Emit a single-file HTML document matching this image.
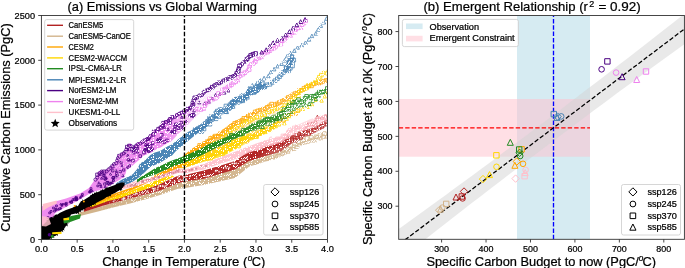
<!DOCTYPE html>
<html><head><meta charset="utf-8"><style>html,body{margin:0;padding:0;background:#fff;}svg{display:block;will-change:transform;}</style></head><body>
<svg width="685" height="268" viewBox="0 0 685 268" font-family='"Liberation Sans", sans-serif'>
<rect width="685" height="268" fill="#fff"/>
<defs><clipPath id="ca"><rect x="41.4" y="15.5" width="286.1" height="224.0"/></clipPath>
<clipPath id="cb"><rect x="398.7" y="15.5" width="285.7" height="223.8"/></clipPath></defs>
<defs><linearGradient id="g_violet" gradientUnits="userSpaceOnUse" x1="41.4" y1="0" x2="327.5" y2="0"><stop offset="-0.001" stop-color="#ee82ee" stop-opacity="0.92"/><stop offset="0.432" stop-color="#ee82ee" stop-opacity="0.88"/><stop offset="0.502" stop-color="#ee82ee" stop-opacity="0.55"/><stop offset="0.554" stop-color="#ee82ee" stop-opacity="0.2"/><stop offset="0.607" stop-color="#ee82ee" stop-opacity="0.08"/><stop offset="0.754" stop-color="#ee82ee" stop-opacity="0.05"/></linearGradient><linearGradient id="g_black" gradientUnits="userSpaceOnUse" x1="41.4" y1="0" x2="327.5" y2="0"><stop offset="-0.001" stop-color="#000" stop-opacity="1"/><stop offset="0.289" stop-color="#000" stop-opacity="1"/></linearGradient><linearGradient id="g_steel" gradientUnits="userSpaceOnUse" x1="41.4" y1="0" x2="327.5" y2="0"><stop offset="0.261" stop-color="#4682b4" stop-opacity="1"/><stop offset="0.540" stop-color="#4682b4" stop-opacity="0.95"/><stop offset="0.589" stop-color="#4682b4" stop-opacity="0.45"/><stop offset="0.642" stop-color="#4682b4" stop-opacity="0.3"/><stop offset="0.782" stop-color="#4682b4" stop-opacity="0.2"/></linearGradient><linearGradient id="g_orange" gradientUnits="userSpaceOnUse" x1="41.4" y1="0" x2="327.5" y2="0"><stop offset="0.156" stop-color="#ffa500" stop-opacity="1"/><stop offset="0.537" stop-color="#ffa500" stop-opacity="0.95"/><stop offset="0.607" stop-color="#ffa500" stop-opacity="0.6"/><stop offset="0.694" stop-color="#ffa500" stop-opacity="0.35"/><stop offset="0.782" stop-color="#ffa500" stop-opacity="0.2"/><stop offset="0.851" stop-color="#ffa500" stop-opacity="0.12"/></linearGradient><linearGradient id="g_gold" gradientUnits="userSpaceOnUse" x1="41.4" y1="0" x2="327.5" y2="0"><stop offset="0.156" stop-color="#ffd700" stop-opacity="1"/><stop offset="0.554" stop-color="#ffd700" stop-opacity="1"/></linearGradient><linearGradient id="g_gold2" gradientUnits="userSpaceOnUse" x1="41.4" y1="0" x2="327.5" y2="0"><stop offset="0.477" stop-color="#ffd700" stop-opacity="0.0"/><stop offset="0.519" stop-color="#ffd700" stop-opacity="0.75"/><stop offset="0.642" stop-color="#ffd700" stop-opacity="0.75"/><stop offset="0.729" stop-color="#ffd700" stop-opacity="0.45"/><stop offset="0.834" stop-color="#ffd700" stop-opacity="0.2"/></linearGradient><linearGradient id="g_green" gradientUnits="userSpaceOnUse" x1="41.4" y1="0" x2="327.5" y2="0"><stop offset="0.334" stop-color="#228b22" stop-opacity="1"/><stop offset="0.642" stop-color="#228b22" stop-opacity="0.95"/><stop offset="0.712" stop-color="#228b22" stop-opacity="0.6"/><stop offset="0.799" stop-color="#228b22" stop-opacity="0.4"/><stop offset="0.855" stop-color="#228b22" stop-opacity="0.3"/></linearGradient><linearGradient id="g_pink" gradientUnits="userSpaceOnUse" x1="41.4" y1="0" x2="327.5" y2="0"><stop offset="0.261" stop-color="#ffc0cb" stop-opacity="0.95"/><stop offset="0.729" stop-color="#ffc0cb" stop-opacity="0.9"/><stop offset="0.869" stop-color="#ffc0cb" stop-opacity="0.6"/><stop offset="1.002" stop-color="#ffc0cb" stop-opacity="0.45"/></linearGradient><linearGradient id="g_red" gradientUnits="userSpaceOnUse" x1="41.4" y1="0" x2="327.5" y2="0"><stop offset="0.149" stop-color="#b22222" stop-opacity="1"/><stop offset="0.747" stop-color="#b22222" stop-opacity="0.95"/><stop offset="0.869" stop-color="#b22222" stop-opacity="0.55"/><stop offset="1.002" stop-color="#b22222" stop-opacity="0.35"/></linearGradient><linearGradient id="g_tan" gradientUnits="userSpaceOnUse" x1="41.4" y1="0" x2="327.5" y2="0"><stop offset="0.128" stop-color="#d2b48c" stop-opacity="1"/><stop offset="0.712" stop-color="#d2b48c" stop-opacity="0.95"/><stop offset="0.834" stop-color="#d2b48c" stop-opacity="0.5"/><stop offset="1.002" stop-color="#d2b48c" stop-opacity="0.25"/></linearGradient></defs>
<g clip-path="url(#ca)">
<path d="M78.0 212.8L99.0 207.3L115.0 202.5L130.0 198.4L145.0 194.5L160.0 190.5L178.0 183.2L185.0 181.6L203.7 177.0L235.0 169.5L249.0 159.3L267.3 153.7L280.0 150.0L297.0 143.5L313.0 137.0L328.0 131.5L328.0 135.0L313.0 140.0L297.0 146.5L280.0 157.4L267.3 161.1L249.0 166.7L235.0 177.9L203.7 185.0L185.0 188.0L178.0 188.8L160.0 195.1L145.0 199.5L130.0 203.6L115.0 207.0L99.0 211.2L78.0 216.6Z" fill="url(#g_tan)"/>
<path d="M253.1 162.8a1.8 1.8 0 1 0 3.6 0a1.8 1.8 0 1 0 -3.6 0M257.9 159.9L259.7 163.5L256.1 163.5ZM260.5 157.7L262.3 161.3L258.7 161.3ZM263.4 156.2L265.2 159.8L261.6 159.8ZM267.1 157.0L268.9 160.6L265.3 160.6ZM268.3 157.9a1.8 1.8 0 1 0 3.6 0a1.8 1.8 0 1 0 -3.6 0M273.3 155.4L275.1 159.0L271.5 159.0ZM276.3 154.3L278.1 157.9L274.5 157.9ZM278.6 151.0L280.4 154.6L276.8 154.6ZM280.6 154.1a1.8 1.8 0 1 0 3.6 0a1.8 1.8 0 1 0 -3.6 0M285.0 150.3L286.8 153.9L283.2 153.9ZM288.2 149.6L290.0 153.2L286.4 153.2ZM290.7 147.3L292.5 150.9L288.9 150.9ZM294.0 146.8L295.8 150.4L292.2 150.4ZM296.5 144.8L298.3 148.4L294.7 148.4ZM297.6 145.1a1.8 1.8 0 1 0 3.6 0a1.8 1.8 0 1 0 -3.6 0M302.0 140.9L303.8 144.5L300.2 144.5ZM304.9 140.3L306.7 143.9L303.1 143.9ZM306.5 141.7a1.8 1.8 0 1 0 3.6 0a1.8 1.8 0 1 0 -3.6 0M311.1 138.3L312.9 141.9L309.3 141.9ZM314.6 138.5L316.4 142.1L312.8 142.1ZM315.1 137.3a1.8 1.8 0 1 0 3.6 0a1.8 1.8 0 1 0 -3.6 0M320.6 136.4L322.4 140.0L318.8 140.0ZM321.8 136.9a1.8 1.8 0 1 0 3.6 0a1.8 1.8 0 1 0 -3.6 0M326.7 134.5L328.5 138.1L324.9 138.1ZM281.2 148.1h3.6v3.6h-3.6ZM285.3 146.4h3.6v3.6h-3.6ZM289.0 144.0h3.6v3.6h-3.6ZM292.8 141.5h3.6v3.6h-3.6ZM296.9 140.3h3.6v3.6h-3.6ZM301.0 138.5h3.6v3.6h-3.6ZM305.2 136.7h3.6v3.6h-3.6ZM309.6 135.6h3.6v3.6h-3.6ZM314.1 135.0h3.6v3.6h-3.6ZM318.2 133.1h3.6v3.6h-3.6ZM322.5 131.7h3.6v3.6h-3.6Z" fill="none" stroke="#d2b48c" stroke-width="0.8"/>
<path d="M84.0 207.8L104.0 201.2L115.0 198.0L130.0 194.6L145.0 189.5L160.0 184.0L178.0 175.8L185.0 175.1L203.7 170.4L222.3 164.9L235.0 161.1L249.0 151.0L267.3 145.3L280.0 141.5L297.0 133.0L315.0 126.5L328.0 118.0L328.0 126.0L315.0 133.0L297.0 140.1L280.0 152.0L267.3 155.5L249.0 161.1L235.0 169.5L222.3 173.2L203.7 178.8L185.0 181.6L178.0 183.2L160.0 190.5L145.0 194.5L130.0 198.4L115.0 202.5L104.0 205.4L84.0 211.8Z" fill="url(#g_red)"/>
<path d="M247.9 153.4h3.6v3.6h-3.6ZM251.3 154.0h3.6v3.6h-3.6ZM253.7 151.7h3.6v3.6h-3.6ZM256.8 151.6h3.6v3.6h-3.6ZM259.6 150.5h3.6v3.6h-3.6ZM262.4 149.3h3.6v3.6h-3.6ZM264.9 147.3h3.6v3.6h-3.6ZM267.9 146.8h3.6v3.6h-3.6ZM270.9 146.4h3.6v3.6h-3.6ZM273.7 145.4h3.6v3.6h-3.6ZM276.5 144.2h3.6v3.6h-3.6ZM279.3 143.6h3.6v3.6h-3.6ZM282.5 143.2h3.6v3.6h-3.6ZM284.8 141.2h3.6v3.6h-3.6ZM287.4 139.5h3.6v3.6h-3.6ZM289.8 137.8h3.6v3.6h-3.6ZM293.5 138.4h3.6v3.6h-3.6ZM295.8 136.3h3.6v3.6h-3.6ZM298.8 135.7h3.6v3.6h-3.6ZM300.7 132.5h3.6v3.6h-3.6ZM303.2 131.3h3.6v3.6h-3.6ZM306.9 131.6h3.6v3.6h-3.6ZM309.2 129.5h3.6v3.6h-3.6ZM311.9 128.3h3.6v3.6h-3.6ZM313.8 125.4h3.6v3.6h-3.6ZM317.3 125.8h3.6v3.6h-3.6ZM320.0 124.5h3.6v3.6h-3.6ZM322.3 122.2h3.6v3.6h-3.6ZM324.7 120.3h3.6v3.6h-3.6ZM262.3 147.3L264.1 150.9L260.5 150.9ZM266.2 146.3L268.0 149.9L264.4 149.9ZM269.6 143.7L271.4 147.3L267.8 147.3ZM273.5 142.7L275.3 146.3L271.7 146.3ZM277.4 141.8L279.2 145.4L275.6 145.4ZM281.7 141.4L283.5 145.0L279.9 145.0ZM284.2 137.6L286.0 141.2L282.4 141.2ZM287.6 135.5L289.4 139.1L285.8 139.1ZM292.0 135.2L293.8 138.8L290.2 138.8ZM295.2 132.7L297.0 136.3L293.4 136.3ZM299.0 131.3L300.8 134.9L297.2 134.9ZM302.6 129.2L304.4 132.8L300.8 132.8ZM305.8 126.9L307.6 130.5L304.0 130.5ZM307.7 122.8L309.5 126.4L305.9 126.4ZM312.0 121.9L313.8 125.5L310.2 125.5ZM315.4 119.7L317.2 123.3L313.6 123.3ZM317.4 115.2L319.2 118.8L315.6 118.8ZM321.8 115.8L323.6 119.4L320.0 119.4ZM325.5 114.1L327.3 117.7L323.7 117.7Z" fill="none" stroke="#b22222" stroke-width="0.8"/>
<path d="M154.3 189.6h1.0v1.0h-1.0ZM231.7 162.9h1.0v1.0h-1.0ZM189.4 176.0h1.0v1.0h-1.0ZM199.2 174.4h1.0v1.0h-1.0ZM113.0 200.9h1.0v1.0h-1.0ZM218.6 171.3h1.0v1.0h-1.0ZM172.0 182.0h1.0v1.0h-1.0ZM243.7 160.0h1.0v1.0h-1.0ZM224.8 166.2h1.0v1.0h-1.0ZM215.2 170.7h1.0v1.0h-1.0ZM134.6 194.1h1.0v1.0h-1.0ZM185.1 179.6h1.0v1.0h-1.0ZM164.6 185.8h1.0v1.0h-1.0ZM121.7 198.7h1.0v1.0h-1.0ZM127.7 196.4h1.0v1.0h-1.0ZM162.3 185.9h1.0v1.0h-1.0ZM174.4 181.1h1.0v1.0h-1.0ZM123.4 198.2h1.0v1.0h-1.0ZM139.4 193.9h1.0v1.0h-1.0ZM246.3 157.3h1.0v1.0h-1.0ZM146.2 191.6h1.0v1.0h-1.0ZM158.3 185.5h1.0v1.0h-1.0ZM157.4 187.1h1.0v1.0h-1.0ZM177.7 176.6h1.0v1.0h-1.0ZM169.6 180.3h1.0v1.0h-1.0ZM205.6 175.9h1.0v1.0h-1.0ZM130.3 195.8h1.0v1.0h-1.0ZM241.9 159.9h1.0v1.0h-1.0ZM215.6 170.0h1.0v1.0h-1.0ZM225.9 167.7h1.0v1.0h-1.0ZM182.7 179.6h1.0v1.0h-1.0ZM153.1 188.4h1.0v1.0h-1.0ZM152.1 187.9h1.0v1.0h-1.0ZM189.7 175.4h1.0v1.0h-1.0ZM179.9 179.1h1.0v1.0h-1.0ZM184.9 175.9h1.0v1.0h-1.0ZM185.7 179.7h1.0v1.0h-1.0ZM178.2 179.8h1.0v1.0h-1.0ZM239.8 161.0h1.0v1.0h-1.0ZM147.2 190.6h1.0v1.0h-1.0ZM157.1 189.1h1.0v1.0h-1.0ZM183.0 176.4h1.0v1.0h-1.0ZM196.0 177.8h1.0v1.0h-1.0ZM207.8 175.6h1.0v1.0h-1.0ZM136.7 193.3h1.0v1.0h-1.0ZM154.6 187.8h1.0v1.0h-1.0ZM124.2 197.7h1.0v1.0h-1.0ZM228.8 167.2h1.0v1.0h-1.0ZM207.7 175.0h1.0v1.0h-1.0ZM162.1 185.3h1.0v1.0h-1.0ZM184.8 179.3h1.0v1.0h-1.0ZM183.6 179.5h1.0v1.0h-1.0ZM142.1 192.8h1.0v1.0h-1.0ZM235.9 162.8h1.0v1.0h-1.0ZM234.2 163.1h1.0v1.0h-1.0ZM233.8 162.8h1.0v1.0h-1.0ZM128.1 195.8h1.0v1.0h-1.0ZM123.1 198.2h1.0v1.0h-1.0ZM185.6 178.5h1.0v1.0h-1.0ZM165.9 184.8h1.0v1.0h-1.0Z" fill="none" stroke="#ffffff" stroke-width="0.6"/>
<path d="M86.0 204.6L93.0 203.6L108.0 197.5L120.0 194.0L130.0 190.9L145.0 185.0L160.0 178.7L168.0 176.0L174.0 175.5L174.0 176.5L168.0 179.5L160.0 183.9L145.0 189.5L130.0 194.6L120.0 198.2L108.0 201.0L93.0 206.6L86.0 207.2Z" fill="url(#g_gold)"/>
<path d="M86.0 204.6L100.0 199.0L110.0 195.0L120.0 191.5L130.0 187.9L145.0 180.5L160.0 172.7L170.0 167.5L178.0 163.7L184.0 155.0L193.0 148.0L208.0 139.5L220.0 131.5L230.0 124.0L241.0 118.0L252.0 113.0L263.0 108.5L275.0 104.0L285.0 100.5L285.0 120.0L275.0 125.0L263.0 131.0L252.0 139.0L241.0 145.0L230.0 151.0L220.0 155.0L208.0 159.0L193.0 165.0L184.0 167.6L178.0 168.3L170.0 172.0L160.0 176.4L145.0 184.0L130.0 190.9L120.0 194.5L110.0 198.5L100.0 202.5L86.0 206.8Z" fill="url(#g_orange)"/>
<path d="M197.8 143.6h3.6v3.6h-3.6ZM200.8 143.4h3.6v3.6h-3.6ZM202.8 141.7h3.6v3.6h-3.6ZM204.8 140.0h3.6v3.6h-3.6ZM207.3 139.1h3.6v3.6h-3.6ZM208.8 136.6h3.6v3.6h-3.6ZM211.1 135.3h3.6v3.6h-3.6ZM213.5 134.3h3.6v3.6h-3.6ZM216.5 134.4h3.6v3.6h-3.6ZM218.2 132.0h3.6v3.6h-3.6ZM221.1 131.8h3.6v3.6h-3.6ZM222.8 129.7h3.6v3.6h-3.6ZM225.0 128.4h3.6v3.6h-3.6ZM227.3 127.1h3.6v3.6h-3.6ZM228.8 124.8h3.6v3.6h-3.6ZM231.1 123.6h3.6v3.6h-3.6ZM232.9 121.6h3.6v3.6h-3.6ZM235.4 120.7h3.6v3.6h-3.6ZM237.9 119.9h3.6v3.6h-3.6ZM240.2 118.7h3.6v3.6h-3.6ZM242.0 116.5h3.6v3.6h-3.6ZM244.8 116.2h3.6v3.6h-3.6ZM246.5 114.0h3.6v3.6h-3.6ZM248.8 112.8h3.6v3.6h-3.6ZM251.7 112.5h3.6v3.6h-3.6ZM253.4 110.1h3.6v3.6h-3.6ZM255.8 109.2h3.6v3.6h-3.6ZM258.3 108.3h3.6v3.6h-3.6ZM260.7 107.3h3.6v3.6h-3.6ZM263.3 106.9h3.6v3.6h-3.6ZM265.5 105.5h3.6v3.6h-3.6ZM267.8 104.1h3.6v3.6h-3.6ZM269.8 102.3h3.6v3.6h-3.6ZM272.9 102.9h3.6v3.6h-3.6ZM275.3 102.1h3.6v3.6h-3.6ZM277.6 100.7h3.6v3.6h-3.6ZM280.0 99.7h3.6v3.6h-3.6ZM282.3 98.5h3.6v3.6h-3.6ZM284.5 97.2h3.6v3.6h-3.6ZM286.5 95.6h3.6v3.6h-3.6ZM288.9 94.8h3.6v3.6h-3.6ZM291.0 93.1h3.6v3.6h-3.6ZM293.2 91.8h3.6v3.6h-3.6ZM295.7 90.9h3.6v3.6h-3.6ZM297.5 88.7h3.6v3.6h-3.6ZM300.3 88.5h3.6v3.6h-3.6ZM302.2 86.4h3.6v3.6h-3.6ZM304.5 85.3h3.6v3.6h-3.6ZM306.9 84.2h3.6v3.6h-3.6ZM309.7 84.1h3.6v3.6h-3.6ZM311.7 82.1h3.6v3.6h-3.6ZM314.3 81.4h3.6v3.6h-3.6ZM317.0 81.4h3.6v3.6h-3.6ZM319.4 80.3h3.6v3.6h-3.6ZM321.8 79.3h3.6v3.6h-3.6ZM324.3 78.7h3.6v3.6h-3.6ZM326.9 78.3h3.6v3.6h-3.6ZM227.5 144.2a1.8 1.8 0 1 0 3.6 0a1.8 1.8 0 1 0 -3.6 0M232.1 144.4h3.6v3.6h-3.6ZM234.3 140.5h3.6v3.6h-3.6ZM237.4 139.0h3.6v3.6h-3.6ZM240.9 138.3h3.6v3.6h-3.6ZM245.2 141.3a1.8 1.8 0 1 0 3.6 0a1.8 1.8 0 1 0 -3.6 0M247.5 137.7a1.8 1.8 0 1 0 3.6 0a1.8 1.8 0 1 0 -3.6 0M251.1 137.1a1.8 1.8 0 1 0 3.6 0a1.8 1.8 0 1 0 -3.6 0M254.1 133.4h3.6v3.6h-3.6ZM257.2 131.8h3.6v3.6h-3.6ZM259.9 131.3a1.8 1.8 0 1 0 3.6 0a1.8 1.8 0 1 0 -3.6 0M263.5 130.5a1.8 1.8 0 1 0 3.6 0a1.8 1.8 0 1 0 -3.6 0M266.6 127.1h3.6v3.6h-3.6ZM269.6 125.5h3.6v3.6h-3.6ZM272.4 125.1a1.8 1.8 0 1 0 3.6 0a1.8 1.8 0 1 0 -3.6 0M274.6 121.7a1.8 1.8 0 1 0 3.6 0a1.8 1.8 0 1 0 -3.6 0M277.9 118.6h3.6v3.6h-3.6ZM281.7 118.5h3.6v3.6h-3.6ZM283.7 116.4a1.8 1.8 0 1 0 3.6 0a1.8 1.8 0 1 0 -3.6 0M287.0 115.1a1.8 1.8 0 1 0 3.6 0a1.8 1.8 0 1 0 -3.6 0M290.2 112.0h3.6v3.6h-3.6ZM294.1 113.8a1.8 1.8 0 1 0 3.6 0a1.8 1.8 0 1 0 -3.6 0M296.3 108.5h3.6v3.6h-3.6Z" fill="none" stroke="#ffa500" stroke-width="0.8"/>
<path d="M203.0 147.8h3.6v3.6h-3.6ZM206.3 148.0h3.6v3.6h-3.6ZM208.0 147.1a1.8 1.8 0 1 0 3.6 0a1.8 1.8 0 1 0 -3.6 0M210.9 146.5a1.8 1.8 0 1 0 3.6 0a1.8 1.8 0 1 0 -3.6 0M212.4 141.8h3.6v3.6h-3.6ZM215.4 141.4h3.6v3.6h-3.6ZM218.3 140.8h3.6v3.6h-3.6ZM220.6 138.7h3.6v3.6h-3.6ZM220.8 134.8h3.6v3.6h-3.6ZM224.2 136.1a1.8 1.8 0 1 0 3.6 0a1.8 1.8 0 1 0 -3.6 0M225.1 131.2h3.6v3.6h-3.6ZM228.2 132.2a1.8 1.8 0 1 0 3.6 0a1.8 1.8 0 1 0 -3.6 0M230.1 130.2a1.8 1.8 0 1 0 3.6 0a1.8 1.8 0 1 0 -3.6 0M231.9 126.2h3.6v3.6h-3.6ZM235.0 125.9h3.6v3.6h-3.6ZM237.1 125.5a1.8 1.8 0 1 0 3.6 0a1.8 1.8 0 1 0 -3.6 0M240.1 125.5a1.8 1.8 0 1 0 3.6 0a1.8 1.8 0 1 0 -3.6 0M242.0 121.0h3.6v3.6h-3.6ZM244.7 120.2h3.6v3.6h-3.6ZM247.3 119.2h3.6v3.6h-3.6ZM249.8 119.7a1.8 1.8 0 1 0 3.6 0a1.8 1.8 0 1 0 -3.6 0M252.2 116.4h3.6v3.6h-3.6ZM254.8 115.3h3.6v3.6h-3.6ZM257.8 117.1a1.8 1.8 0 1 0 3.6 0a1.8 1.8 0 1 0 -3.6 0M259.9 114.8a1.8 1.8 0 1 0 3.6 0a1.8 1.8 0 1 0 -3.6 0M262.9 113.0h3.6v3.6h-3.6ZM265.1 112.7a1.8 1.8 0 1 0 3.6 0a1.8 1.8 0 1 0 -3.6 0M267.8 111.9a1.8 1.8 0 1 0 3.6 0a1.8 1.8 0 1 0 -3.6 0M270.4 109.1h3.6v3.6h-3.6ZM272.6 107.0h3.6v3.6h-3.6ZM275.6 108.7a1.8 1.8 0 1 0 3.6 0a1.8 1.8 0 1 0 -3.6 0M278.7 109.1a1.8 1.8 0 1 0 3.6 0a1.8 1.8 0 1 0 -3.6 0M281.3 106.4h3.6v3.6h-3.6ZM282.8 105.4a1.8 1.8 0 1 0 3.6 0a1.8 1.8 0 1 0 -3.6 0M286.3 103.2h3.6v3.6h-3.6ZM287.7 100.7h3.6v3.6h-3.6ZM290.0 99.0h3.6v3.6h-3.6ZM291.9 96.9h3.6v3.6h-3.6ZM293.4 94.5h3.6v3.6h-3.6ZM296.7 93.9h3.6v3.6h-3.6ZM297.1 91.9a1.8 1.8 0 1 0 3.6 0a1.8 1.8 0 1 0 -3.6 0M299.5 90.4a1.8 1.8 0 1 0 3.6 0a1.8 1.8 0 1 0 -3.6 0M302.6 89.7a1.8 1.8 0 1 0 3.6 0a1.8 1.8 0 1 0 -3.6 0M304.8 86.2h3.6v3.6h-3.6ZM306.4 83.8h3.6v3.6h-3.6ZM309.1 84.6a1.8 1.8 0 1 0 3.6 0a1.8 1.8 0 1 0 -3.6 0M311.5 83.1a1.8 1.8 0 1 0 3.6 0a1.8 1.8 0 1 0 -3.6 0M314.0 79.9h3.6v3.6h-3.6ZM316.3 78.1h3.6v3.6h-3.6ZM317.6 75.4h3.6v3.6h-3.6ZM319.5 73.3h3.6v3.6h-3.6ZM321.7 73.0a1.8 1.8 0 1 0 3.6 0a1.8 1.8 0 1 0 -3.6 0M324.8 73.3a1.8 1.8 0 1 0 3.6 0a1.8 1.8 0 1 0 -3.6 0M327.1 69.7h3.6v3.6h-3.6ZM224.9 149.1L226.7 152.7L223.1 152.7ZM229.5 147.0L231.3 150.6L227.7 150.6ZM234.4 145.2L236.2 148.8L232.6 148.8ZM237.6 141.1L239.4 144.7L235.8 144.7ZM241.4 137.3L243.2 140.9L239.6 140.9ZM246.0 135.4L247.8 139.0L244.2 139.0ZM251.3 135.5L253.1 139.1L249.5 139.1ZM256.5 134.6L258.3 138.2L254.7 138.2ZM260.3 131.2L262.1 134.8L258.5 134.8ZM265.3 130.0L267.1 133.6L263.5 133.6ZM269.9 128.0L271.7 131.6L268.1 131.6ZM273.5 123.9L275.3 127.5L271.7 127.5ZM277.6 120.7L279.4 124.3L275.8 124.3ZM284.3 121.2L286.1 124.8L282.5 124.8ZM286.6 116.7L288.4 120.3L284.8 120.3ZM289.7 114.1L291.5 117.7L287.9 117.7ZM293.4 110.1L295.2 113.7L291.6 113.7ZM298.2 108.5L300.0 112.1L296.4 112.1ZM302.7 106.9L304.5 110.5L300.9 110.5ZM307.4 104.9L309.2 108.5L305.6 108.5ZM311.8 102.3L313.6 105.9L310.0 105.9ZM315.1 97.8L316.9 101.4L313.3 101.4ZM321.5 98.6L323.3 102.2L319.7 102.2ZM324.6 94.4L326.4 98.0L322.8 98.0ZM327.7 90.4L329.5 94.0L325.9 94.0Z" fill="none" stroke="#ffd700" stroke-width="0.8"/>
<path d="M178.0 168.0L185.0 162.0L200.0 156.0L222.0 146.0L240.0 137.5L260.0 128.5L280.0 121.5L280.0 126.0L260.0 136.0L240.0 147.0L222.0 156.6L200.0 163.0L185.0 168.0L178.0 170.0Z" fill="url(#g_gold2)"/>
<path d="M230.7 142.6a1.8 1.8 0 1 0 3.6 0a1.8 1.8 0 1 0 -3.6 0M274.2 123.2L276.0 126.8L272.4 126.8ZM259.5 133.4a1.8 1.8 0 1 0 3.6 0a1.8 1.8 0 1 0 -3.6 0M236.8 144.3h3.6v3.6h-3.6ZM199.4 156.7h3.6v3.6h-3.6ZM225.4 150.2L227.2 153.8L223.6 153.8ZM252.8 134.7L254.6 138.3L251.0 138.3ZM219.1 149.1a1.8 1.8 0 1 0 3.6 0a1.8 1.8 0 1 0 -3.6 0M250.3 133.7a1.8 1.8 0 1 0 3.6 0a1.8 1.8 0 1 0 -3.6 0M214.6 152.1a1.8 1.8 0 1 0 3.6 0a1.8 1.8 0 1 0 -3.6 0M266.0 128.4L267.8 132.0L264.2 132.0ZM218.5 152.3a1.8 1.8 0 1 0 3.6 0a1.8 1.8 0 1 0 -3.6 0M242.1 137.5h3.6v3.6h-3.6ZM241.1 140.5L242.9 144.1L239.3 144.1ZM277.1 122.4h3.6v3.6h-3.6ZM254.7 134.7h3.6v3.6h-3.6ZM275.6 124.2L277.4 127.8L273.8 127.8ZM260.3 129.5a1.8 1.8 0 1 0 3.6 0a1.8 1.8 0 1 0 -3.6 0M244.3 140.5a1.8 1.8 0 1 0 3.6 0a1.8 1.8 0 1 0 -3.6 0M205.5 159.1a1.8 1.8 0 1 0 3.6 0a1.8 1.8 0 1 0 -3.6 0M235.2 139.0h3.6v3.6h-3.6ZM209.0 156.4h3.6v3.6h-3.6ZM241.9 137.3a1.8 1.8 0 1 0 3.6 0a1.8 1.8 0 1 0 -3.6 0M211.7 156.2a1.8 1.8 0 1 0 3.6 0a1.8 1.8 0 1 0 -3.6 0M248.1 133.9L249.9 137.5L246.3 137.5ZM223.1 152.3L224.9 155.9L221.3 155.9ZM260.7 129.4L262.5 133.0L258.9 133.0ZM214.8 152.5L216.6 156.1L213.0 156.1ZM234.5 141.5h3.6v3.6h-3.6ZM209.3 155.3h3.6v3.6h-3.6ZM270.7 125.5h3.6v3.6h-3.6ZM264.3 126.3L266.1 129.9L262.5 129.9ZM231.2 140.3h3.6v3.6h-3.6ZM230.9 145.6L232.7 149.2L229.1 149.2ZM226.9 144.0L228.7 147.6L225.1 147.6ZM243.6 136.6h3.6v3.6h-3.6ZM262.7 130.4L264.5 134.0L260.9 134.0ZM232.3 144.3L234.1 147.9L230.5 147.9ZM235.8 141.0h3.6v3.6h-3.6ZM271.2 126.9a1.8 1.8 0 1 0 3.6 0a1.8 1.8 0 1 0 -3.6 0" fill="none" stroke="#ffd700" stroke-width="0.8"/>
<path d="M116.0 186.0L122.0 184.5L130.0 182.7L145.0 179.0L160.0 175.5L178.0 168.3L185.0 169.5L203.7 163.9L222.3 156.5L235.0 151.8L248.7 146.2L267.3 139.7L280.0 136.5L296.7 125.2L310.0 119.2L328.0 113.5L328.0 121.5L310.0 127.4L296.7 132.2L280.0 143.0L267.3 146.5L248.7 152.7L235.0 159.3L222.3 163.0L203.7 169.5L185.0 173.2L178.0 173.0L160.0 179.0L145.0 183.5L130.0 187.9L122.0 189.0L116.0 190.0Z" fill="url(#g_pink)"/>
<path d="M255.5 146.5L257.3 150.1L253.7 150.1ZM257.5 146.3L259.3 149.9L255.7 149.9ZM257.6 145.5h3.6v3.6h-3.6ZM259.6 147.1a1.8 1.8 0 1 0 3.6 0a1.8 1.8 0 1 0 -3.6 0M260.8 142.6h3.6v3.6h-3.6ZM262.2 142.6a1.8 1.8 0 1 0 3.6 0a1.8 1.8 0 1 0 -3.6 0M266.5 141.7L268.3 145.3L264.7 145.3ZM268.3 140.9L270.1 144.5L266.5 144.5ZM269.0 141.7h3.6v3.6h-3.6ZM269.3 138.8a1.8 1.8 0 1 0 3.6 0a1.8 1.8 0 1 0 -3.6 0M274.5 140.1L276.3 143.7L272.7 143.7ZM274.2 138.5h3.6v3.6h-3.6ZM275.7 137.0h3.6v3.6h-3.6ZM278.3 139.8a1.8 1.8 0 1 0 3.6 0a1.8 1.8 0 1 0 -3.6 0M280.3 139.5a1.8 1.8 0 1 0 3.6 0a1.8 1.8 0 1 0 -3.6 0M281.1 134.1h3.6v3.6h-3.6ZM283.4 134.5h3.6v3.6h-3.6ZM285.9 134.7h3.6v3.6h-3.6ZM287.3 130.0L289.1 133.6L285.5 133.6ZM288.7 128.4L290.5 132.0L286.9 132.0ZM290.5 127.5L292.3 131.1L288.7 131.1ZM294.7 130.8L296.5 134.4L292.9 134.4ZM292.5 126.1h3.6v3.6h-3.6ZM296.1 124.5L297.9 128.1L294.3 128.1ZM298.5 125.1L300.3 128.7L296.7 128.7ZM299.8 129.1a1.8 1.8 0 1 0 3.6 0a1.8 1.8 0 1 0 -3.6 0M303.5 126.6L305.3 130.2L301.7 130.2ZM303.5 127.7a1.8 1.8 0 1 0 3.6 0a1.8 1.8 0 1 0 -3.6 0M305.3 125.0h3.6v3.6h-3.6ZM306.4 122.4h3.6v3.6h-3.6ZM310.3 122.3L312.1 125.9L308.5 125.9ZM312.7 123.3L314.5 126.9L310.9 126.9ZM312.4 123.2a1.8 1.8 0 1 0 3.6 0a1.8 1.8 0 1 0 -3.6 0M316.5 122.1L318.3 125.7L314.7 125.7ZM316.9 116.8L318.7 120.4L315.1 120.4ZM318.9 116.4L320.7 120.0L317.1 120.0ZM319.1 117.9a1.8 1.8 0 1 0 3.6 0a1.8 1.8 0 1 0 -3.6 0M321.2 117.9a1.8 1.8 0 1 0 3.6 0a1.8 1.8 0 1 0 -3.6 0M323.5 118.5a1.8 1.8 0 1 0 3.6 0a1.8 1.8 0 1 0 -3.6 0M324.9 114.5h3.6v3.6h-3.6Z" fill="none" stroke="#ffc0cb" stroke-width="0.8"/>
<path d="M182.1 170.2h1.2v1.2h-1.2ZM162.3 175.0h1.2v1.2h-1.2ZM168.9 172.4h1.2v1.2h-1.2ZM169.5 172.8h1.2v1.2h-1.2ZM133.4 184.9h1.2v1.2h-1.2ZM141.3 181.0h1.2v1.2h-1.2ZM135.5 184.1h1.2v1.2h-1.2ZM177.7 171.0h1.2v1.2h-1.2ZM117.7 187.6h1.2v1.2h-1.2ZM134.8 183.4h1.2v1.2h-1.2ZM148.5 179.5h1.2v1.2h-1.2ZM167.5 173.7h1.2v1.2h-1.2ZM175.0 171.5h1.2v1.2h-1.2ZM176.4 169.8h1.2v1.2h-1.2ZM170.5 172.1h1.2v1.2h-1.2ZM142.6 181.2h1.2v1.2h-1.2ZM142.7 180.4h1.2v1.2h-1.2ZM172.9 172.4h1.2v1.2h-1.2ZM148.9 179.6h1.2v1.2h-1.2ZM195.6 168.0h1.2v1.2h-1.2ZM200.5 165.4h1.2v1.2h-1.2ZM205.4 165.5h1.2v1.2h-1.2ZM177.9 169.1h1.2v1.2h-1.2ZM121.5 185.7h1.2v1.2h-1.2ZM191.6 168.9h1.2v1.2h-1.2ZM154.1 177.7h1.2v1.2h-1.2ZM184.4 171.2h1.2v1.2h-1.2ZM123.3 185.6h1.2v1.2h-1.2ZM185.2 170.8h1.2v1.2h-1.2ZM129.9 185.3h1.2v1.2h-1.2ZM131.4 184.0h1.2v1.2h-1.2ZM117.7 186.8h1.2v1.2h-1.2ZM126.3 185.4h1.2v1.2h-1.2ZM158.6 176.4h1.2v1.2h-1.2ZM183.3 171.0h1.2v1.2h-1.2ZM146.1 179.4h1.2v1.2h-1.2ZM158.0 176.5h1.2v1.2h-1.2ZM152.7 178.2h1.2v1.2h-1.2ZM121.2 186.0h1.2v1.2h-1.2ZM188.9 169.7h1.2v1.2h-1.2ZM162.3 175.5h1.2v1.2h-1.2ZM154.4 178.4h1.2v1.2h-1.2ZM158.0 176.7h1.2v1.2h-1.2ZM164.0 174.8h1.2v1.2h-1.2ZM191.1 169.0h1.2v1.2h-1.2Z" fill="none" stroke="#d08090" stroke-width="0.7"/>
<path d="M137.0 179.5L140.0 177.4L145.0 174.5L150.0 171.5L155.4 168.0L160.7 165.7L166.1 163.0L171.5 160.7L174.0 159.8L181.8 157.0L190.0 153.5L200.0 149.0L209.0 144.0L220.0 139.5L230.0 135.4L248.7 126.1L258.0 120.5L267.3 116.5L280.0 112.5L286.0 110.0L286.0 115.0L280.0 119.0L267.3 123.3L258.0 128.0L248.7 132.6L230.0 141.0L220.0 146.0L209.0 151.5L200.0 156.0L190.0 160.5L181.8 163.5L174.0 166.1L171.5 167.2L166.1 169.8L160.7 172.0L155.4 174.6L150.0 176.0L145.0 178.0L140.0 180.8L137.0 182.5Z" fill="url(#g_green)"/>
<path d="M226.9 138.3h3.6v3.6h-3.6ZM227.8 134.9h3.6v3.6h-3.6ZM229.6 133.5h3.6v3.6h-3.6ZM232.5 134.6h3.6v3.6h-3.6ZM234.3 133.4h3.6v3.6h-3.6ZM236.0 131.7h3.6v3.6h-3.6ZM238.7 132.4h3.6v3.6h-3.6ZM240.8 131.7h3.6v3.6h-3.6ZM241.8 128.4h3.6v3.6h-3.6ZM244.4 129.0h3.6v3.6h-3.6ZM246.3 127.8h3.6v3.6h-3.6ZM248.2 126.9h3.6v3.6h-3.6ZM249.7 125.0h3.6v3.6h-3.6ZM251.6 123.9h3.6v3.6h-3.6ZM254.3 124.2h3.6v3.6h-3.6ZM256.0 122.7h3.6v3.6h-3.6ZM257.7 121.0h3.6v3.6h-3.6ZM260.3 121.4h3.6v3.6h-3.6ZM262.1 120.0h3.6v3.6h-3.6ZM263.6 118.2h3.6v3.6h-3.6ZM265.7 117.4h3.6v3.6h-3.6ZM268.3 117.9h3.6v3.6h-3.6ZM270.5 117.4h3.6v3.6h-3.6ZM272.4 116.2h3.6v3.6h-3.6ZM275.0 116.8h3.6v3.6h-3.6ZM276.8 115.4h3.6v3.6h-3.6ZM277.4 112.6h3.6v3.6h-3.6ZM279.6 111.6h3.6v3.6h-3.6ZM281.9 110.8h3.6v3.6h-3.6ZM282.1 107.9h3.6v3.6h-3.6ZM284.8 107.4h3.6v3.6h-3.6ZM286.5 106.0h3.6v3.6h-3.6ZM287.3 103.7h3.6v3.6h-3.6ZM289.6 103.5h3.6v3.6h-3.6ZM290.8 100.7h3.6v3.6h-3.6ZM293.0 100.4h3.6v3.6h-3.6ZM295.3 100.1h3.6v3.6h-3.6ZM296.7 97.9h3.6v3.6h-3.6ZM299.9 99.8h3.6v3.6h-3.6ZM301.8 98.7h3.6v3.6h-3.6ZM303.3 96.5h3.6v3.6h-3.6ZM304.8 94.5h3.6v3.6h-3.6ZM307.9 96.0h3.6v3.6h-3.6ZM309.7 94.6h3.6v3.6h-3.6ZM312.0 94.4h3.6v3.6h-3.6ZM314.2 94.0h3.6v3.6h-3.6ZM315.9 92.3h3.6v3.6h-3.6ZM317.5 90.4h3.6v3.6h-3.6ZM319.8 90.4h3.6v3.6h-3.6ZM322.0 89.8h3.6v3.6h-3.6ZM324.3 89.8h3.6v3.6h-3.6ZM325.5 86.7h3.6v3.6h-3.6ZM328.1 87.2h3.6v3.6h-3.6ZM254.7 126.4L256.5 130.0L252.9 130.0ZM258.5 125.1L260.3 128.7L256.7 128.7ZM262.7 124.9L264.5 128.5L260.9 128.5ZM265.7 121.6L267.5 125.2L263.9 125.2ZM270.3 122.3L272.1 125.9L268.5 125.9ZM273.3 119.1L275.1 122.7L271.5 122.7ZM276.6 117.1L278.4 120.7L274.8 120.7ZM280.9 116.5L282.7 120.1L279.1 120.1ZM284.7 115.0L286.5 118.6L282.9 118.6ZM288.1 113.0L289.9 116.6L286.3 116.6ZM290.9 109.8L292.7 113.4L289.1 113.4ZM293.7 106.7L295.5 110.3L291.9 110.3ZM297.1 104.4L298.9 108.0L295.3 108.0ZM301.0 103.2L302.8 106.8L299.2 106.8ZM305.3 103.0L307.1 106.6L303.5 106.6ZM309.2 101.9L311.0 105.5L307.4 105.5ZM312.4 99.1L314.2 102.7L310.6 102.7ZM315.8 97.0L317.6 100.6L314.0 100.6ZM318.6 93.6L320.4 97.2L316.8 97.2Z" fill="none" stroke="#228b22" stroke-width="0.8"/>
<path d="M116.0 183.5L122.0 179.5L130.0 176.0L133.0 174.0L137.4 168.8L140.0 163.5L144.5 160.7L147.5 158.1L150.4 155.0L154.9 152.5L160.0 151.0L163.4 149.0L167.7 146.3L172.0 144.5L176.0 141.0L180.0 138.0L184.0 134.8L188.0 132.0L192.0 130.0L199.0 125.5L205.0 120.5L215.0 111.0L230.0 103.5L244.0 93.5L258.0 83.5L265.0 80.5L265.0 88.4L258.0 91.0L244.0 99.5L230.0 110.5L215.0 119.5L205.0 128.5L199.0 132.2L192.0 137.8L188.0 141.0L184.0 144.5L180.0 147.5L176.0 151.0L172.0 155.4L167.7 158.1L163.4 160.7L160.0 162.8L154.9 165.0L150.4 167.0L147.5 169.5L144.5 172.5L140.0 176.5L137.4 178.5L133.0 181.5L130.0 183.0L122.0 186.0L116.0 187.5Z" fill="url(#g_steel)"/>
<path d="M193.4 127.8h3.6v3.6h-3.6ZM195.0 128.6h3.6v3.6h-3.6ZM197.1 126.3L199.6 128.8L197.1 131.4L194.5 128.8ZM199.0 128.4L200.8 132.0L197.2 132.0ZM200.9 129.8L202.7 133.4L199.1 133.4ZM200.0 129.4h3.6v3.6h-3.6ZM198.8 125.2h3.6v3.6h-3.6ZM201.8 125.3L203.6 128.9L200.0 128.9ZM202.2 127.2h3.6v3.6h-3.6ZM203.3 123.8L205.1 127.4L201.5 127.4ZM204.1 123.2L205.9 126.8L202.3 126.8ZM205.1 123.3L206.9 126.9L203.3 126.9ZM205.7 122.5L207.5 126.1L203.9 126.1ZM205.9 120.6L208.5 123.1L205.9 125.7L203.4 123.1ZM206.1 119.4L208.7 122.0L206.1 124.5L203.6 122.0ZM208.1 122.4h3.6v3.6h-3.6ZM208.2 119.3L210.0 122.9L206.4 122.9ZM209.9 118.9L212.5 121.4L209.9 124.0L207.4 121.4ZM209.3 116.9L211.9 119.5L209.3 122.0L206.8 119.5ZM209.7 116.7L211.5 120.3L207.9 120.3ZM209.7 114.6L212.3 117.1L209.7 119.7L207.2 117.1ZM213.1 116.4L215.7 119.0L213.1 121.5L210.6 119.0ZM211.2 115.7h3.6v3.6h-3.6ZM214.1 117.0h3.6v3.6h-3.6ZM214.1 113.2L216.6 115.7L214.1 118.3L211.5 115.7ZM215.3 113.9L217.1 117.5L213.5 117.5ZM216.5 113.2L219.1 115.7L216.5 118.3L214.0 115.7ZM214.2 111.0h3.6v3.6h-3.6ZM219.3 114.7L221.1 118.3L217.5 118.3ZM215.5 109.3h3.6v3.6h-3.6ZM219.6 110.6L222.2 113.1L219.6 115.7L217.1 113.1ZM220.0 109.2L222.5 111.7L220.0 114.2L217.4 111.7ZM218.2 107.9h3.6v3.6h-3.6ZM220.8 107.4L222.6 111.0L219.0 111.0ZM222.3 107.9L224.1 111.5L220.5 111.5ZM223.9 108.6L225.7 112.2L222.1 112.2ZM223.9 109.9h3.6v3.6h-3.6ZM226.9 110.0L228.7 113.6L225.1 113.6ZM226.2 106.7L228.0 110.3L224.4 110.3ZM224.1 104.2h3.6v3.6h-3.6ZM227.7 105.3L229.5 108.9L225.9 108.9ZM229.6 105.8L232.1 108.3L229.6 110.9L227.0 108.3ZM230.3 105.1L232.9 107.7L230.3 110.2L227.8 107.7ZM230.0 102.8L232.5 105.4L230.0 107.9L227.4 105.4ZM230.1 104.5h3.6v3.6h-3.6ZM233.2 104.6L235.0 108.2L231.4 108.2ZM230.0 101.0h3.6v3.6h-3.6ZM231.0 100.7h3.6v3.6h-3.6ZM232.5 101.0h3.6v3.6h-3.6ZM233.8 97.9L236.3 100.5L233.8 103.0L231.3 100.5ZM233.1 98.5h3.6v3.6h-3.6ZM233.6 97.5h3.6v3.6h-3.6ZM238.9 99.7L241.4 102.2L238.9 104.8L236.3 102.2ZM236.7 98.3h3.6v3.6h-3.6ZM237.8 98.0h3.6v3.6h-3.6ZM241.5 98.2L244.0 100.7L241.5 103.3L239.0 100.7ZM241.0 99.0h3.6v3.6h-3.6ZM241.2 97.6h3.6v3.6h-3.6ZM241.5 93.2L244.0 95.7L241.5 98.3L239.0 95.7ZM245.1 97.0L246.9 100.6L243.3 100.6ZM244.8 95.0L246.6 98.6L243.0 98.6ZM245.6 94.6L247.4 98.2L243.8 98.2ZM247.5 95.5L249.3 99.1L245.7 99.1ZM247.5 93.8L249.3 97.4L245.7 97.4ZM247.6 92.1L249.4 95.7L245.8 95.7ZM247.7 90.4L249.5 94.0L245.9 94.0ZM248.0 88.9L249.8 92.5L246.2 92.5ZM250.7 91.3L252.5 94.9L248.9 94.9ZM249.6 87.1L252.2 89.6L249.6 92.2L247.1 89.6ZM250.8 87.1L253.4 89.6L250.8 92.2L248.3 89.6ZM253.6 90.2L255.4 93.8L251.8 93.8ZM251.7 88.3h3.6v3.6h-3.6ZM255.7 89.1L258.2 91.6L255.7 94.2L253.1 91.6ZM254.1 85.5L255.9 89.1L252.3 89.1ZM255.3 88.3h3.6v3.6h-3.6ZM258.0 87.1L260.5 89.6L258.0 92.2L255.4 89.6ZM256.4 83.6L258.2 87.2L254.6 87.2ZM258.4 83.8L260.9 86.3L258.4 88.9L255.8 86.3ZM259.6 84.0L262.1 86.5L259.6 89.1L257.0 86.5ZM259.9 82.9L261.7 86.5L258.1 86.5ZM260.9 82.0L263.4 84.6L260.9 87.1L258.3 84.6ZM261.3 85.4h3.6v3.6h-3.6ZM260.5 81.0h3.6v3.6h-3.6ZM263.1 84.5h3.6v3.6h-3.6ZM248.8 86.4L250.6 90.0L247.0 90.0ZM252.4 83.5L254.2 87.1L250.6 87.1ZM256.7 81.6L258.5 85.2L254.9 85.2ZM260.1 78.5L261.9 82.1L258.3 82.1ZM264.1 76.2L265.9 79.8L262.3 79.8ZM268.3 74.2L270.1 77.8L266.5 77.8ZM270.8 70.3L272.6 73.9L269.0 73.9ZM274.1 67.3L275.9 70.9L272.3 70.9ZM277.6 64.3L279.4 67.9L275.8 67.9ZM281.6 61.9L283.4 65.5L279.8 65.5ZM284.7 58.5L286.5 62.1L282.9 62.1ZM287.1 54.5L288.9 58.1L285.3 58.1ZM290.4 51.3L292.2 54.9L288.6 54.9ZM294.3 48.8L296.1 52.4L292.5 52.4ZM297.6 45.6L299.4 49.2L295.8 49.2ZM301.7 43.3L303.5 46.9L299.9 46.9ZM305.5 40.7L307.3 44.3L303.7 44.3ZM308.9 37.6L310.7 41.2L307.1 41.2ZM311.9 34.1L313.7 37.7L310.1 37.7ZM315.8 31.6L317.6 35.2L314.0 35.2ZM318.2 27.6L320.0 31.2L316.4 31.2ZM320.8 23.8L322.6 27.4L319.0 27.4ZM323.9 20.4L325.7 24.0L322.1 24.0ZM326.6 16.7L328.4 20.3L324.8 20.3ZM228.2 102.9h3.6v3.6h-3.6ZM230.5 101.1h3.6v3.6h-3.6ZM233.0 99.4h3.6v3.6h-3.6ZM235.2 97.3h3.6v3.6h-3.6ZM238.2 96.4h3.6v3.6h-3.6ZM241.2 95.6h3.6v3.6h-3.6ZM243.7 93.9h3.6v3.6h-3.6ZM246.1 91.9h3.6v3.6h-3.6ZM248.7 90.5h3.6v3.6h-3.6ZM252.1 90.6h3.6v3.6h-3.6ZM254.5 88.8h3.6v3.6h-3.6ZM257.0 87.0h3.6v3.6h-3.6ZM259.8 85.8h3.6v3.6h-3.6ZM262.8 85.1h3.6v3.6h-3.6ZM265.1 83.0h3.6v3.6h-3.6ZM268.2 82.5h3.6v3.6h-3.6ZM270.6 80.6h3.6v3.6h-3.6ZM273.1 78.9h3.6v3.6h-3.6ZM275.5 77.1h3.6v3.6h-3.6ZM277.7 75.0h3.6v3.6h-3.6ZM279.3 72.8h3.6v3.6h-3.6ZM281.5 70.7h3.6v3.6h-3.6ZM283.5 68.4h3.6v3.6h-3.6ZM284.3 65.4h3.6v3.6h-3.6ZM287.0 63.5h3.6v3.6h-3.6ZM287.3 60.2h3.6v3.6h-3.6ZM289.7 58.1h3.6v3.6h-3.6ZM290.1 54.9h3.6v3.6h-3.6ZM290.3 55.8h3.6v3.6h-3.6ZM288.5 58.2h3.6v3.6h-3.6ZM287.5 61.1h3.6v3.6h-3.6ZM286.6 64.0h3.6v3.6h-3.6ZM284.4 66.3h3.6v3.6h-3.6ZM285.4 68.6h3.6v3.6h-3.6ZM286.8 69.0h3.6v3.6h-3.6ZM288.5 66.5h3.6v3.6h-3.6ZM290.7 64.2h3.6v3.6h-3.6ZM290.7 61.0h3.6v3.6h-3.6ZM292.0 58.3h3.6v3.6h-3.6Z" fill="none" stroke="#4682b4" stroke-width="0.8"/>
<path d="M41.0 206.7L47.0 204.0L52.0 202.5L55.0 201.5L66.0 198.4L80.0 193.5L89.0 188.0L96.0 178.0L98.3 171.6L101.0 170.3L105.4 170.3L109.0 168.1L111.7 165.4L114.4 162.7L116.0 161.8L117.5 157.0L118.2 154.9L121.2 153.1L124.9 151.6L126.5 147.0L128.5 143.7L130.5 143.5L133.0 146.5L136.0 144.0L139.0 142.1L143.4 139.4L147.9 136.7L152.4 133.0L154.0 130.5L157.6 128.4L161.2 124.3L163.8 121.6L167.4 119.0L171.0 116.3L174.6 114.5L178.0 112.7L181.6 111.2L185.2 109.0L188.7 106.3L191.4 104.5L193.5 100.0L195.0 96.5L198.6 94.7L202.0 92.9L210.0 87.0L220.0 81.0L228.0 77.5L235.0 73.5L240.3 63.0L247.5 56.3L256.0 51.0L256.0 62.0L247.5 70.0L240.3 77.0L235.0 85.0L228.0 90.0L220.0 97.0L210.0 105.0L202.0 112.0L198.6 114.5L195.0 117.5L193.5 119.0L191.4 121.0L188.7 124.0L185.2 128.0L181.6 131.0L178.0 134.0L174.6 138.0L171.0 141.5L167.4 143.3L163.8 145.2L161.2 147.2L157.6 148.5L154.0 150.8L152.4 151.9L147.9 154.0L143.4 155.8L139.0 160.0L136.0 162.5L133.0 165.2L130.5 167.5L128.5 168.8L126.5 170.0L124.9 176.6L121.2 178.9L118.2 180.5L117.5 181.0L116.0 181.8L114.4 183.0L111.7 184.5L109.0 186.0L105.4 188.1L101.0 189.8L98.3 190.5L96.0 191.0L89.0 194.0L80.0 199.5L66.0 207.0L55.0 213.0L52.0 222.0L47.0 226.0L41.0 226.0Z" fill="url(#g_violet)"/>
<path d="M65.5 202.4h1.8v1.8h-1.8ZM63.1 203.0L64.0 204.8L62.2 204.8ZM75.3 198.4h1.8v1.8h-1.8ZM58.8 207.8h1.8v1.8h-1.8ZM65.3 204.3h1.8v1.8h-1.8ZM90.1 187.7h1.8v1.8h-1.8ZM89.1 191.1h1.8v1.8h-1.8ZM71.6 199.9L72.5 201.7L70.7 201.7ZM64.6 203.1h1.8v1.8h-1.8ZM96.9 185.0h1.8v1.8h-1.8ZM55.6 205.0h1.8v1.8h-1.8ZM47.0 216.7h1.8v1.8h-1.8ZM80.6 195.7L81.5 197.5L79.7 197.5ZM48.8 212.0h1.8v1.8h-1.8ZM80.3 196.6L81.2 198.4L79.4 198.4ZM75.4 196.4L76.3 198.2L74.5 198.2ZM90.3 189.7L91.2 191.5L89.4 191.5ZM53.6 210.2h1.8v1.8h-1.8ZM82.2 194.7L83.1 196.5L81.3 196.5ZM90.0 189.8h1.8v1.8h-1.8ZM62.1 203.4L63.0 205.2L61.2 205.2ZM52.6 207.1h1.8v1.8h-1.8ZM55.1 208.9h1.8v1.8h-1.8ZM72.2 198.7h1.8v1.8h-1.8ZM55.2 208.2h1.8v1.8h-1.8ZM69.9 200.8L70.8 202.6L69.0 202.6ZM70.5 201.3h1.8v1.8h-1.8ZM75.7 196.8h1.8v1.8h-1.8ZM58.4 208.3L59.3 210.1L57.5 210.1ZM98.7 181.7L99.6 183.5L97.8 183.5ZM81.5 193.6h1.8v1.8h-1.8ZM75.3 198.9h1.8v1.8h-1.8ZM89.3 190.6L90.2 192.4L88.4 192.4ZM92.4 189.9L93.3 191.7L91.5 191.7ZM76.1 198.2h1.8v1.8h-1.8ZM50.1 217.5h1.8v1.8h-1.8ZM50.2 210.5h1.8v1.8h-1.8ZM60.8 207.2L61.7 209.0L59.9 209.0ZM60.7 203.2L61.6 205.0L59.8 205.0ZM90.2 190.9L91.1 192.7L89.3 192.7ZM73.5 198.8h1.8v1.8h-1.8ZM61.9 204.5L62.8 206.3L61.0 206.3ZM70.6 201.4h1.8v1.8h-1.8ZM76.1 196.7L77.0 198.5L75.2 198.5ZM75.7 198.8h1.8v1.8h-1.8ZM109.3 183.1L110.4 185.3L108.2 185.3ZM129.5 158.8L130.6 161.0L128.4 161.0ZM112.0 176.7h2.2v2.2h-2.2ZM127.8 154.1L128.9 156.3L126.7 156.3ZM115.6 172.4h2.2v2.2h-2.2ZM127.1 158.8h2.2v2.2h-2.2ZM128.0 148.4L129.1 150.6L126.9 150.6ZM102.2 174.5h2.2v2.2h-2.2ZM101.0 185.2L102.1 187.4L99.9 187.4ZM100.0 173.2L101.1 175.4L98.9 175.4ZM112.2 181.4L113.3 183.6L111.1 183.6ZM106.8 182.1h2.2v2.2h-2.2ZM113.6 178.4L114.7 180.6L112.5 180.6ZM106.3 176.7L107.4 178.9L105.2 178.9ZM106.0 181.6h2.2v2.2h-2.2ZM116.1 174.6h2.2v2.2h-2.2ZM122.2 164.6L123.3 166.8L121.1 166.8ZM112.1 176.6h2.2v2.2h-2.2ZM101.0 171.5h2.2v2.2h-2.2ZM122.6 168.9h2.2v2.2h-2.2ZM127.2 166.4L128.3 168.6L126.1 168.6ZM101.6 177.0L102.7 179.2L100.5 179.2ZM103.2 174.5h2.2v2.2h-2.2ZM110.3 181.8L111.4 184.0L109.2 184.0ZM119.9 161.6h2.2v2.2h-2.2ZM111.0 181.6L112.1 183.8L109.9 183.8ZM128.4 164.8h2.2v2.2h-2.2ZM104.4 178.0h2.2v2.2h-2.2ZM122.9 174.5L124.0 176.7L121.8 176.7ZM100.5 183.3L101.6 185.5L99.4 185.5ZM103.7 182.9h2.2v2.2h-2.2ZM110.5 172.9L111.6 175.1L109.4 175.1ZM113.2 179.2L114.3 181.4L112.1 181.4ZM105.2 185.5L106.3 187.7L104.1 187.7ZM111.6 169.8h2.2v2.2h-2.2ZM106.7 181.4h2.2v2.2h-2.2ZM103.9 177.7h2.2v2.2h-2.2ZM116.2 169.5L117.3 171.7L115.1 171.7ZM119.2 170.6h2.2v2.2h-2.2ZM114.2 175.9h2.2v2.2h-2.2ZM138.9 154.8h2.6v2.6h-2.6ZM171.5 130.0L172.8 132.6L170.2 132.6ZM151.3 141.9h2.6v2.6h-2.6ZM177.1 126.9h2.6v2.6h-2.6ZM173.3 128.2h2.6v2.6h-2.6ZM146.2 145.2h2.6v2.6h-2.6ZM132.4 151.3h2.6v2.6h-2.6ZM134.0 148.4L135.3 151.0L132.7 151.0ZM148.2 143.1L149.5 145.7L146.9 145.7ZM146.9 137.8h2.6v2.6h-2.6ZM181.9 115.7L183.2 118.3L180.6 118.3ZM157.7 138.0L159.0 140.6L156.4 140.6ZM160.5 133.5h2.6v2.6h-2.6ZM149.2 144.7h2.6v2.6h-2.6ZM188.9 114.4h2.6v2.6h-2.6ZM182.2 126.8L183.5 129.4L180.9 129.4ZM173.2 130.8h2.6v2.6h-2.6ZM182.6 123.8L183.9 126.4L181.3 126.4ZM137.6 150.4L138.9 153.0L136.3 153.0ZM131.6 159.2h2.6v2.6h-2.6ZM159.3 137.6h2.6v2.6h-2.6ZM190.6 114.0L191.9 116.6L189.3 116.6ZM192.2 103.2h2.6v2.6h-2.6ZM192.5 113.4h2.6v2.6h-2.6ZM145.2 146.2h2.6v2.6h-2.6ZM194.0 109.3L195.3 111.9L192.7 111.9ZM177.4 124.5h2.6v2.6h-2.6ZM186.4 120.0L187.7 122.6L185.1 122.6ZM165.7 139.1h2.6v2.6h-2.6ZM144.6 148.4L145.9 151.0L143.3 151.0ZM131.5 148.3L132.8 150.9L130.2 150.9ZM145.0 147.0L146.3 149.6L143.7 149.6ZM173.8 124.8h2.6v2.6h-2.6ZM160.3 138.6L161.6 141.2L159.0 141.2ZM172.1 130.6L173.4 133.2L170.8 133.2ZM151.5 148.0L152.8 150.6L150.2 150.6ZM147.6 149.6h2.6v2.6h-2.6ZM191.3 113.5h2.6v2.6h-2.6ZM135.8 147.1h2.6v2.6h-2.6ZM134.3 147.5L135.6 150.1L133.0 150.1ZM160.7 139.3L162.0 141.9L159.4 141.9ZM147.4 149.4h2.6v2.6h-2.6ZM145.7 142.9L147.0 145.5L144.4 145.5ZM150.8 148.1h2.6v2.6h-2.6ZM162.9 140.7h2.6v2.6h-2.6ZM142.7 151.3h2.6v2.6h-2.6ZM188.3 107.5h2.6v2.6h-2.6ZM156.8 139.8h2.6v2.6h-2.6ZM168.1 127.8L169.4 130.4L166.8 130.4ZM164.3 125.7L165.6 128.3L163.0 128.3ZM168.7 121.6h2.6v2.6h-2.6ZM179.9 121.4h2.6v2.6h-2.6ZM147.4 148.2L148.7 150.8L146.1 150.8ZM174.6 123.0h2.6v2.6h-2.6ZM193.4 115.0L194.7 117.6L192.1 117.6ZM199.3 100.9L200.8 103.9L197.8 103.9ZM204.7 101.9L206.2 104.9L203.2 104.9ZM208.8 100.2L210.3 103.2L207.3 103.2ZM212.2 96.7L213.7 99.7L210.7 99.7ZM215.5 93.5L217.0 96.5L214.0 96.5ZM220.0 92.4L221.5 95.4L218.5 95.4ZM224.5 91.1L226.0 94.1L223.0 94.1ZM228.5 89.0L230.0 92.0L227.0 92.0ZM93.9 179.6a1.6 1.6 0 1 0 3.2 0a1.6 1.6 0 1 0 -3.2 0M95.6 177.5a1.6 1.6 0 1 0 3.2 0a1.6 1.6 0 1 0 -3.2 0M95.7 173.1h3.2v3.2h-3.2ZM97.8 173.4a1.6 1.6 0 1 0 3.2 0a1.6 1.6 0 1 0 -3.2 0M100.0 171.6a1.6 1.6 0 1 0 3.2 0a1.6 1.6 0 1 0 -3.2 0M102.6 170.0h3.2v3.2h-3.2ZM105.0 171.4a1.6 1.6 0 1 0 3.2 0a1.6 1.6 0 1 0 -3.2 0M106.9 169.5a1.6 1.6 0 1 0 3.2 0a1.6 1.6 0 1 0 -3.2 0M108.9 168.0a1.6 1.6 0 1 0 3.2 0a1.6 1.6 0 1 0 -3.2 0M110.9 164.7h3.2v3.2h-3.2ZM112.4 164.2a1.6 1.6 0 1 0 3.2 0a1.6 1.6 0 1 0 -3.2 0M114.8 163.0a1.6 1.6 0 1 0 3.2 0a1.6 1.6 0 1 0 -3.2 0M115.6 160.5a1.6 1.6 0 1 0 3.2 0a1.6 1.6 0 1 0 -3.2 0M116.5 158.1a1.6 1.6 0 1 0 3.2 0a1.6 1.6 0 1 0 -3.2 0M117.7 154.4h3.2v3.2h-3.2ZM119.8 154.5a1.6 1.6 0 1 0 3.2 0a1.6 1.6 0 1 0 -3.2 0M122.1 153.3a1.6 1.6 0 1 0 3.2 0a1.6 1.6 0 1 0 -3.2 0M123.6 151.8a1.6 1.6 0 1 0 3.2 0a1.6 1.6 0 1 0 -3.2 0M124.9 149.5a1.6 1.6 0 1 0 3.2 0a1.6 1.6 0 1 0 -3.2 0M125.5 145.3h3.2v3.2h-3.2ZM127.6 144.3h3.2v3.2h-3.2ZM130.0 146.1a1.6 1.6 0 1 0 3.2 0a1.6 1.6 0 1 0 -3.2 0M130.9 148.6a1.6 1.6 0 1 0 3.2 0a1.6 1.6 0 1 0 -3.2 0M132.1 147.6a1.6 1.6 0 1 0 3.2 0a1.6 1.6 0 1 0 -3.2 0M134.7 144.8h3.2v3.2h-3.2ZM136.0 144.1a1.6 1.6 0 1 0 3.2 0a1.6 1.6 0 1 0 -3.2 0M138.7 143.4a1.6 1.6 0 1 0 3.2 0a1.6 1.6 0 1 0 -3.2 0M140.8 141.9a1.6 1.6 0 1 0 3.2 0a1.6 1.6 0 1 0 -3.2 0M143.1 139.0h3.2v3.2h-3.2ZM145.3 139.2a1.6 1.6 0 1 0 3.2 0a1.6 1.6 0 1 0 -3.2 0M147.5 137.9a1.6 1.6 0 1 0 3.2 0a1.6 1.6 0 1 0 -3.2 0M149.1 135.7a1.6 1.6 0 1 0 3.2 0a1.6 1.6 0 1 0 -3.2 0M151.7 132.9h3.2v3.2h-3.2ZM152.4 130.0h3.2v3.2h-3.2ZM155.0 130.9a1.6 1.6 0 1 0 3.2 0a1.6 1.6 0 1 0 -3.2 0M156.8 127.4h3.2v3.2h-3.2ZM159.1 126.0h3.2v3.2h-3.2ZM160.7 123.9h3.2v3.2h-3.2ZM161.8 121.4h3.2v3.2h-3.2ZM164.5 120.6h3.2v3.2h-3.2ZM166.7 120.7a1.6 1.6 0 1 0 3.2 0a1.6 1.6 0 1 0 -3.2 0M168.7 117.5h3.2v3.2h-3.2ZM170.6 115.7h3.2v3.2h-3.2ZM173.3 116.8a1.6 1.6 0 1 0 3.2 0a1.6 1.6 0 1 0 -3.2 0M175.2 115.0a1.6 1.6 0 1 0 3.2 0a1.6 1.6 0 1 0 -3.2 0M177.6 113.8a1.6 1.6 0 1 0 3.2 0a1.6 1.6 0 1 0 -3.2 0M180.1 111.4h3.2v3.2h-3.2ZM182.3 110.1h3.2v3.2h-3.2ZM184.6 108.7h3.2v3.2h-3.2ZM186.6 107.2h3.2v3.2h-3.2ZM188.9 107.6a1.6 1.6 0 1 0 3.2 0a1.6 1.6 0 1 0 -3.2 0M190.8 103.8h3.2v3.2h-3.2ZM190.9 102.6a1.6 1.6 0 1 0 3.2 0a1.6 1.6 0 1 0 -3.2 0M192.0 98.7h3.2v3.2h-3.2Z" fill="none" stroke="#4b0082" stroke-width="0.8"/>
<path d="M195.9 106.8L197.7 110.4L194.1 110.4ZM196.9 107.5h3.6v3.6h-3.6ZM201.2 107.5L203.0 111.1L199.4 111.1ZM203.9 106.7L205.7 110.3L202.1 110.3ZM203.0 103.7h3.6v3.6h-3.6ZM205.9 101.1L207.7 104.7L204.1 104.7ZM206.3 99.7h3.6v3.6h-3.6ZM207.7 97.3h3.6v3.6h-3.6ZM213.0 97.3L214.8 100.9L211.2 100.9ZM213.7 96.4h3.6v3.6h-3.6ZM217.6 94.9L219.4 98.5L215.8 98.5ZM216.7 91.7h3.6v3.6h-3.6ZM221.3 91.1L223.1 94.7L219.5 94.7ZM220.7 88.3h3.6v3.6h-3.6ZM223.1 87.3h3.6v3.6h-3.6ZM226.5 85.1L228.3 88.7L224.7 88.7ZM227.6 84.5h3.6v3.6h-3.6ZM229.6 83.0h3.6v3.6h-3.6ZM231.7 81.4h3.6v3.6h-3.6ZM233.9 79.8h3.6v3.6h-3.6ZM238.0 78.4L239.8 82.0L236.2 82.0ZM236.6 75.2h3.6v3.6h-3.6ZM240.5 73.6L242.3 77.2L238.7 77.2ZM241.1 72.4h3.6v3.6h-3.6ZM243.1 70.9h3.6v3.6h-3.6ZM246.7 68.8L248.5 72.4L244.9 72.4ZM247.4 67.8h3.6v3.6h-3.6ZM247.8 65.0h3.6v3.6h-3.6ZM250.2 62.3L252.0 65.9L248.4 65.9ZM251.7 61.7h3.6v3.6h-3.6ZM253.5 59.8h3.6v3.6h-3.6ZM254.5 57.0h3.6v3.6h-3.6ZM259.0 56.1L260.8 59.7L257.2 59.7ZM261.5 55.2L263.3 58.8L259.7 58.8ZM261.0 52.5h3.6v3.6h-3.6ZM263.1 51.1h3.6v3.6h-3.6ZM265.8 50.3h3.6v3.6h-3.6ZM269.7 48.9L271.5 52.5L267.9 52.5ZM269.9 47.1h3.6v3.6h-3.6ZM272.3 46.2h3.6v3.6h-3.6ZM276.1 44.4L277.9 48.0L274.3 48.0ZM276.1 42.5h3.6v3.6h-3.6ZM279.1 42.2h3.6v3.6h-3.6ZM281.8 38.9L283.6 42.5L280.0 42.5ZM282.8 38.4h3.6v3.6h-3.6ZM285.7 35.7L287.5 39.3L283.9 39.3ZM287.8 34.2L289.6 37.8L286.0 37.8ZM290.7 33.6L292.5 37.2L288.9 37.2ZM292.0 31.0L293.8 34.6L290.2 34.6ZM293.0 30.4h3.6v3.6h-3.6ZM294.0 27.5h3.6v3.6h-3.6ZM298.0 26.1L299.8 29.7L296.2 29.7ZM301.1 25.7L302.9 29.3L299.3 29.3ZM300.2 22.9h3.6v3.6h-3.6ZM304.1 21.2L305.9 24.8L302.3 24.8ZM303.8 19.1h3.6v3.6h-3.6Z" fill="none" stroke="#ee82ee" stroke-width="0.8"/>
<path d="M193.0 96.1h3.6v3.6h-3.6ZM195.6 97.2a1.8 1.8 0 1 0 3.6 0a1.8 1.8 0 1 0 -3.6 0M197.7 95.7a1.8 1.8 0 1 0 3.6 0a1.8 1.8 0 1 0 -3.6 0M200.1 94.7a1.8 1.8 0 1 0 3.6 0a1.8 1.8 0 1 0 -3.6 0M201.7 92.6a1.8 1.8 0 1 0 3.6 0a1.8 1.8 0 1 0 -3.6 0M203.6 90.9a1.8 1.8 0 1 0 3.6 0a1.8 1.8 0 1 0 -3.6 0M206.1 90.0a1.8 1.8 0 1 0 3.6 0a1.8 1.8 0 1 0 -3.6 0M208.5 88.9a1.8 1.8 0 1 0 3.6 0a1.8 1.8 0 1 0 -3.6 0M210.5 85.3h3.6v3.6h-3.6ZM212.5 85.5a1.8 1.8 0 1 0 3.6 0a1.8 1.8 0 1 0 -3.6 0M214.8 84.2a1.8 1.8 0 1 0 3.6 0a1.8 1.8 0 1 0 -3.6 0M217.0 81.1h3.6v3.6h-3.6ZM219.5 82.0a1.8 1.8 0 1 0 3.6 0a1.8 1.8 0 1 0 -3.6 0M221.7 80.7a1.8 1.8 0 1 0 3.6 0a1.8 1.8 0 1 0 -3.6 0M224.1 79.6a1.8 1.8 0 1 0 3.6 0a1.8 1.8 0 1 0 -3.6 0M226.4 78.7a1.8 1.8 0 1 0 3.6 0a1.8 1.8 0 1 0 -3.6 0M228.7 75.7h3.6v3.6h-3.6ZM231.1 76.4a1.8 1.8 0 1 0 3.6 0a1.8 1.8 0 1 0 -3.6 0M233.2 75.0a1.8 1.8 0 1 0 3.6 0a1.8 1.8 0 1 0 -3.6 0M235.1 71.3h3.6v3.6h-3.6ZM236.5 69.1h3.6v3.6h-3.6ZM237.0 68.3a1.8 1.8 0 1 0 3.6 0a1.8 1.8 0 1 0 -3.6 0M237.8 64.0h3.6v3.6h-3.6ZM239.9 64.4a1.8 1.8 0 1 0 3.6 0a1.8 1.8 0 1 0 -3.6 0M241.8 62.5a1.8 1.8 0 1 0 3.6 0a1.8 1.8 0 1 0 -3.6 0M244.0 61.1a1.8 1.8 0 1 0 3.6 0a1.8 1.8 0 1 0 -3.6 0M245.3 57.1h3.6v3.6h-3.6ZM247.1 57.0a1.8 1.8 0 1 0 3.6 0a1.8 1.8 0 1 0 -3.6 0M248.9 53.6h3.6v3.6h-3.6ZM251.2 52.4h3.6v3.6h-3.6ZM253.8 51.7h3.6v3.6h-3.6ZM261.8 50.2L263.7 54.0L259.9 54.0ZM266.2 47.8L268.1 51.6L264.3 51.6ZM269.7 44.3L271.6 48.1L267.8 48.1ZM273.1 40.7L275.0 44.5L271.2 44.5ZM277.5 38.4L279.4 42.2L275.6 42.2ZM282.0 36.4L283.9 40.2L280.1 40.2ZM285.7 33.0L287.6 36.8L283.8 36.8ZM289.4 29.7L291.3 33.5L287.5 33.5ZM293.0 26.2L294.9 30.0L291.1 30.0ZM296.8 22.9L298.7 26.7L294.9 26.7ZM300.6 19.7L302.5 23.5L298.7 23.5ZM305.1 17.5L307.0 21.3L303.2 21.3Z" fill="none" stroke="#4b0082" stroke-width="0.9"/>
<defs><pattern id="speck" width="17" height="17" patternUnits="userSpaceOnUse"><g fill="#fff"><rect x="0" y="1" width="1" height="1"/><rect x="13" y="8" width="1" height="1"/><rect x="12" y="12" width="1" height="1"/><rect x="14" y="7" width="1" height="1"/><rect x="5" y="5" width="1" height="1"/><rect x="0" y="10" width="1" height="1"/><rect x="6" y="4" width="1" height="1"/><rect x="15" y="4" width="1" height="1"/><rect x="9" y="3" width="1" height="1"/><rect x="4" y="10" width="1" height="1"/><rect x="7" y="8" width="1" height="1"/><rect x="3" y="5" width="1" height="1"/><rect x="4" y="12" width="1" height="1"/><rect x="7" y="15" width="1" height="1"/><rect x="0" y="14" width="1" height="1"/><rect x="12" y="13" width="1" height="1"/><rect x="2" y="14" width="1" height="1"/><rect x="16" y="6" width="1" height="1"/><rect x="14" y="14" width="1" height="1"/><rect x="8" y="4" width="1" height="1"/><rect x="0" y="3" width="1" height="1"/><rect x="12" y="5" width="1" height="1"/><rect x="13" y="10" width="1" height="1"/><rect x="13" y="0" width="1" height="1"/><rect x="11" y="0" width="1" height="1"/><rect x="11" y="10" width="1" height="1"/><rect x="16" y="12" width="1" height="1"/><rect x="13" y="13" width="1" height="1"/><rect x="9" y="11" width="1" height="1"/><rect x="0" y="4" width="1" height="1"/><rect x="2" y="15" width="1" height="1"/><rect x="8" y="11" width="1" height="1"/><rect x="7" y="5" width="1" height="1"/><rect x="7" y="16" width="1" height="1"/><rect x="4" y="13" width="1" height="1"/><rect x="0" y="6" width="1" height="1"/><rect x="9" y="6" width="1" height="1"/><rect x="6" y="13" width="1" height="1"/><rect x="2" y="8" width="1" height="1"/><rect x="15" y="13" width="1" height="1"/></g></pattern><linearGradient id="speckfade" gradientUnits="userSpaceOnUse" x1="95" y1="0" x2="150" y2="0"><stop offset="0" stop-color="#fff" stop-opacity="0"/><stop offset="1" stop-color="#fff" stop-opacity="1"/></linearGradient><mask id="speckmask"><rect x="95" y="15" width="235" height="225" fill="url(#speckfade)"/></mask></defs>
<rect x="95" y="15" width="235" height="225" fill="url(#speck)" mask="url(#speckmask)"/>
<path d="M41.0 226.9L47.0 221.0L53.0 217.5L60.0 212.8L66.0 210.0L71.0 208.3L78.0 206.0L80.0 202.5L91.0 195.5L96.0 192.8L104.0 189.5L108.0 187.5L115.0 185.0L121.0 182.6L124.5 182.5L124.5 185.5L121.0 189.0L115.0 193.0L108.0 196.0L104.0 199.0L96.0 203.0L91.0 205.4L80.0 211.0L78.0 213.0L71.0 214.5L66.0 226.0L60.0 233.0L53.0 237.0L47.0 240.0L41.0 240.0Z" fill="url(#g_black)"/>
<path d="M51.7 216.7L52.4 218.5L54.4 218.6L52.8 219.8L53.4 221.7L51.7 220.6L50.1 221.7L50.6 219.8L49.0 218.6L51.1 218.5ZM48.7 218.4L49.4 220.3L51.4 220.3L49.8 221.6L50.3 223.5L48.7 222.3L47.1 223.5L47.6 221.6L46.0 220.3L48.0 220.3ZM61.6 227.1L62.3 229.0L64.3 229.0L62.7 230.3L63.3 232.2L61.6 231.0L60.0 232.2L60.6 230.3L59.0 229.0L61.0 229.0ZM90.5 201.7L91.2 203.6L93.2 203.6L91.6 204.8L92.1 206.7L90.5 205.6L88.8 206.7L89.4 204.8L87.8 203.6L89.8 203.6ZM67.8 217.8L68.5 219.7L70.5 219.8L68.9 221.0L69.5 222.9L67.8 221.8L66.2 222.9L66.7 221.0L65.1 219.8L67.1 219.7ZM77.5 209.1L78.2 211.0L80.2 211.0L78.6 212.3L79.2 214.2L77.5 213.0L75.9 214.2L76.4 212.3L74.8 211.0L76.8 211.0ZM120.8 185.2L121.4 187.1L123.4 187.1L121.8 188.3L122.4 190.2L120.8 189.1L119.1 190.2L119.7 188.3L118.1 187.1L120.1 187.1ZM92.4 193.1L93.1 195.0L95.1 195.1L93.5 196.3L94.0 198.2L92.4 197.1L90.7 198.2L91.3 196.3L89.7 195.1L91.7 195.0ZM52.2 216.4L52.9 218.3L54.9 218.3L53.3 219.5L53.8 221.4L52.2 220.3L50.6 221.4L51.1 219.5L49.5 218.3L51.5 218.3ZM56.3 213.7L56.9 215.6L58.9 215.6L57.3 216.8L57.9 218.8L56.3 217.6L54.6 218.8L55.2 216.8L53.6 215.6L55.6 215.6ZM82.8 199.1L83.5 201.0L85.5 201.0L83.9 202.3L84.5 204.2L82.8 203.0L81.2 204.2L81.8 202.3L80.2 201.0L82.2 201.0ZM75.3 205.3L75.9 207.2L77.9 207.2L76.3 208.4L76.9 210.4L75.3 209.2L73.6 210.4L74.2 208.4L72.6 207.2L74.6 207.2ZM66.2 221.5L66.9 223.4L68.9 223.4L67.3 224.6L67.9 226.5L66.2 225.4L64.6 226.5L65.2 224.6L63.6 223.4L65.6 223.4ZM88.8 202.5L89.5 204.4L91.5 204.4L89.9 205.7L90.5 207.6L88.8 206.4L87.2 207.6L87.7 205.7L86.2 204.4L88.2 204.4ZM119.5 186.0L120.1 187.9L122.1 187.9L120.5 189.2L121.1 191.1L119.5 189.9L117.8 191.1L118.4 189.2L116.8 187.9L118.8 187.9ZM94.3 199.8L95.0 201.7L97.0 201.7L95.4 203.0L96.0 204.9L94.3 203.7L92.7 204.9L93.2 203.0L91.6 201.7L93.6 201.7ZM52.8 233.1L53.4 235.0L55.4 235.1L53.8 236.3L54.4 238.2L52.8 237.0L51.1 238.2L51.7 236.3L50.1 235.1L52.1 235.0ZM96.2 191.1L96.9 193.0L98.9 193.0L97.3 194.3L97.9 196.2L96.2 195.0L94.6 196.2L95.2 194.3L93.6 193.0L95.6 193.0ZM84.0 204.9L84.7 206.8L86.7 206.9L85.1 208.1L85.7 210.0L84.0 208.9L82.4 210.0L83.0 208.1L81.4 206.9L83.4 206.8ZM107.3 192.5L107.9 194.4L109.9 194.5L108.3 195.7L108.9 197.6L107.3 196.5L105.6 197.6L106.2 195.7L104.6 194.5L106.6 194.4ZM49.5 218.0L50.1 219.8L52.1 219.9L50.5 221.1L51.1 223.0L49.5 221.9L47.8 223.0L48.4 221.1L46.8 219.9L48.8 219.8ZM102.4 188.6L103.0 190.5L105.0 190.5L103.5 191.7L104.0 193.6L102.4 192.5L100.7 193.6L101.3 191.7L99.7 190.5L101.7 190.5ZM119.9 185.7L120.6 187.6L122.6 187.6L121.0 188.8L121.6 190.8L119.9 189.6L118.3 190.8L118.9 188.8L117.3 187.6L119.3 187.6ZM51.2 216.9L51.9 218.8L53.9 218.9L52.3 220.1L52.9 222.0L51.2 220.9L49.6 222.0L50.2 220.1L48.6 218.9L50.6 218.8ZM79.7 207.3L80.4 209.2L82.4 209.2L80.8 210.5L81.3 212.4L79.7 211.2L78.0 212.4L78.6 210.5L77.0 209.2L79.0 209.2ZM92.9 200.5L93.6 202.4L95.6 202.4L94.0 203.6L94.5 205.6L92.9 204.4L91.3 205.6L91.8 203.6L90.2 202.4L92.2 202.4ZM50.4 234.3L51.0 236.2L53.1 236.2L51.5 237.5L52.0 239.4L50.4 238.2L48.7 239.4L49.3 237.5L47.7 236.2L49.7 236.2ZM107.1 186.4L107.7 188.3L109.7 188.3L108.1 189.5L108.7 191.4L107.1 190.3L105.4 191.4L106.0 189.5L104.4 188.3L106.4 188.3ZM81.9 206.0L82.5 207.9L84.5 208.0L82.9 209.2L83.5 211.1L81.9 210.0L80.2 211.1L80.8 209.2L79.2 208.0L81.2 207.9ZM49.5 217.9L50.2 219.8L52.2 219.9L50.6 221.1L51.2 223.0L49.5 221.8L47.9 223.0L48.5 221.1L46.9 219.9L48.9 219.8ZM47.6 235.7L48.3 237.6L50.3 237.6L48.7 238.8L49.3 240.8L47.6 239.6L46.0 240.8L46.6 238.8L45.0 237.6L47.0 237.6ZM94.5 192.0L95.1 193.9L97.2 193.9L95.6 195.2L96.1 197.1L94.5 195.9L92.8 197.1L93.4 195.2L91.8 193.9L93.8 193.9ZM75.5 205.2L76.1 207.1L78.1 207.2L76.5 208.4L77.1 210.3L75.5 209.2L73.8 210.3L74.4 208.4L72.8 207.2L74.8 207.1ZM76.7 204.8L77.3 206.7L79.3 206.8L77.7 208.0L78.3 209.9L76.7 208.8L75.0 209.9L75.6 208.0L74.0 206.8L76.0 206.7ZM62.8 225.7L63.5 227.6L65.5 227.6L63.9 228.8L64.5 230.8L62.8 229.6L61.2 230.8L61.8 228.8L60.2 227.6L62.2 227.6ZM50.6 217.3L51.3 219.2L53.3 219.2L51.7 220.4L52.3 222.3L50.6 221.2L49.0 222.3L49.6 220.4L48.0 219.2L50.0 219.2ZM90.3 201.8L91.0 203.6L93.0 203.7L91.4 204.9L92.0 206.8L90.3 205.7L88.7 206.8L89.2 204.9L87.6 203.7L89.6 203.6ZM42.2 224.1L42.9 226.0L44.9 226.0L43.3 227.2L43.9 229.1L42.2 228.0L40.6 229.1L41.2 227.2L39.6 226.0L41.6 226.0ZM109.7 191.3L110.3 193.2L112.3 193.2L110.7 194.4L111.3 196.4L109.7 195.2L108.0 196.4L108.6 194.4L107.0 193.2L109.0 193.2ZM92.8 200.6L93.4 202.5L95.4 202.5L93.8 203.7L94.4 205.6L92.8 204.5L91.1 205.6L91.7 203.7L90.1 202.5L92.1 202.5ZM108.9 191.6L109.6 193.5L111.6 193.6L110.0 194.8L110.5 196.7L108.9 195.5L107.3 196.7L107.8 194.8L106.2 193.6L108.2 193.5ZM56.4 231.0L57.1 232.9L59.1 233.0L57.5 234.2L58.1 236.1L56.4 235.0L54.8 236.1L55.4 234.2L53.8 233.0L55.8 232.9ZM117.9 182.2L118.6 184.1L120.6 184.2L119.0 185.4L119.6 187.3L117.9 186.2L116.3 187.3L116.8 185.4L115.3 184.2L117.3 184.1ZM94.3 199.8L95.0 201.7L97.0 201.7L95.4 203.0L96.0 204.9L94.3 203.7L92.7 204.9L93.2 203.0L91.7 201.7L93.7 201.7ZM55.3 214.3L56.0 216.2L58.0 216.3L56.4 217.5L57.0 219.4L55.3 218.3L53.7 219.4L54.3 217.5L52.7 216.3L54.7 216.2Z" fill="#000"/>
<path d="M63.4 221.5C66 217 72 215.5 81.1 214.3L80 218.5C74 220.5 69 222.8 64 223.6Z" fill="#228b22"/>
<path d="M63.4 218.3L69 217.6L69 220L63.4 220.6Z" fill="#ffd700"/>
<path d="M52.2 232.2L61.5 231.8L61.5 233.9L52.2 234.3Z" fill="#ffd700"/>
<path d="M42.7 204L56.7 200.5L56.7 203.5L48 207.5L42.7 211Z" fill="#ffc0cb"/>
<path d="M41 216L48.5 217L51 224L46 226.5L41 226Z" fill="#ffc0cb" fill-opacity="0.85"/>
<circle cx="49.4" cy="234.8" r="1.7" fill="#4b0082"/><circle cx="52.3" cy="236.2" r="1.5" fill="#228b22"/>
<circle cx="74.6" cy="205.9" r="1.0" fill="#ffa500"/><circle cx="83.9" cy="201.4" r="1.0" fill="#ffa500"/>
</g>
<line x1="184.45" y1="239.5" x2="184.45" y2="15.5" stroke="#000" stroke-width="1.35" stroke-dasharray="4.5 1.85"/>
<rect x="41.4" y="15.5" width="286.1" height="224.0" fill="none" stroke="#333" stroke-width="0.9"/>
<line x1="41.40" y1="239.5" x2="41.40" y2="242.7" stroke="#333" stroke-width="0.9"/>
<text x="41.40" y="251.70" font-size="8.7" text-anchor="middle" stroke="#000" stroke-width="0.22" textLength="12.8" lengthAdjust="spacingAndGlyphs">0.0</text>
<line x1="77.16" y1="239.5" x2="77.16" y2="242.7" stroke="#333" stroke-width="0.9"/>
<text x="77.16" y="251.70" font-size="8.7" text-anchor="middle" stroke="#000" stroke-width="0.22" textLength="12.8" lengthAdjust="spacingAndGlyphs">0.5</text>
<line x1="112.93" y1="239.5" x2="112.93" y2="242.7" stroke="#333" stroke-width="0.9"/>
<text x="112.93" y="251.70" font-size="8.7" text-anchor="middle" stroke="#000" stroke-width="0.22" textLength="12.8" lengthAdjust="spacingAndGlyphs">1.0</text>
<line x1="148.69" y1="239.5" x2="148.69" y2="242.7" stroke="#333" stroke-width="0.9"/>
<text x="148.69" y="251.70" font-size="8.7" text-anchor="middle" stroke="#000" stroke-width="0.22" textLength="12.8" lengthAdjust="spacingAndGlyphs">1.5</text>
<line x1="184.45" y1="239.5" x2="184.45" y2="242.7" stroke="#333" stroke-width="0.9"/>
<text x="184.45" y="251.70" font-size="8.7" text-anchor="middle" stroke="#000" stroke-width="0.22" textLength="12.8" lengthAdjust="spacingAndGlyphs">2.0</text>
<line x1="220.21" y1="239.5" x2="220.21" y2="242.7" stroke="#333" stroke-width="0.9"/>
<text x="220.21" y="251.70" font-size="8.7" text-anchor="middle" stroke="#000" stroke-width="0.22" textLength="12.8" lengthAdjust="spacingAndGlyphs">2.5</text>
<line x1="255.98" y1="239.5" x2="255.98" y2="242.7" stroke="#333" stroke-width="0.9"/>
<text x="255.98" y="251.70" font-size="8.7" text-anchor="middle" stroke="#000" stroke-width="0.22" textLength="12.8" lengthAdjust="spacingAndGlyphs">3.0</text>
<line x1="291.74" y1="239.5" x2="291.74" y2="242.7" stroke="#333" stroke-width="0.9"/>
<text x="291.74" y="251.70" font-size="8.7" text-anchor="middle" stroke="#000" stroke-width="0.22" textLength="12.8" lengthAdjust="spacingAndGlyphs">3.5</text>
<line x1="327.50" y1="239.5" x2="327.50" y2="242.7" stroke="#333" stroke-width="0.9"/>
<text x="327.50" y="251.70" font-size="8.7" text-anchor="middle" stroke="#000" stroke-width="0.22" textLength="12.8" lengthAdjust="spacingAndGlyphs">4.0</text>
<line x1="38.20" y1="239.50" x2="41.4" y2="239.50" stroke="#333" stroke-width="0.9"/>
<text x="35.00" y="242.70" font-size="8.7" text-anchor="end" stroke="#000" stroke-width="0.22" textLength="5.1" lengthAdjust="spacingAndGlyphs">0</text>
<line x1="38.20" y1="194.70" x2="41.4" y2="194.70" stroke="#333" stroke-width="0.9"/>
<text x="35.00" y="197.90" font-size="8.7" text-anchor="end" stroke="#000" stroke-width="0.22" textLength="15.3" lengthAdjust="spacingAndGlyphs">500</text>
<line x1="38.20" y1="149.90" x2="41.4" y2="149.90" stroke="#333" stroke-width="0.9"/>
<text x="35.00" y="153.10" font-size="8.7" text-anchor="end" stroke="#000" stroke-width="0.22" textLength="20.4" lengthAdjust="spacingAndGlyphs">1000</text>
<line x1="38.20" y1="105.10" x2="41.4" y2="105.10" stroke="#333" stroke-width="0.9"/>
<text x="35.00" y="108.30" font-size="8.7" text-anchor="end" stroke="#000" stroke-width="0.22" textLength="20.4" lengthAdjust="spacingAndGlyphs">1500</text>
<line x1="38.20" y1="60.30" x2="41.4" y2="60.30" stroke="#333" stroke-width="0.9"/>
<text x="35.00" y="63.50" font-size="8.7" text-anchor="end" stroke="#000" stroke-width="0.22" textLength="20.4" lengthAdjust="spacingAndGlyphs">2000</text>
<line x1="38.20" y1="15.50" x2="41.4" y2="15.50" stroke="#333" stroke-width="0.9"/>
<text x="35.00" y="18.70" font-size="8.7" text-anchor="end" stroke="#000" stroke-width="0.22" textLength="20.4" lengthAdjust="spacingAndGlyphs">2500</text>
<text x="67.50" y="10.70" font-size="12.6" stroke="#000" stroke-width="0.22" textLength="189.5" lengthAdjust="spacingAndGlyphs">(a) Emissions vs Global Warming</text>
<text x="102.20" y="265.50" font-size="12.4" stroke="#000" stroke-width="0.22" textLength="145.3" lengthAdjust="spacingAndGlyphs">Change in Temperature (</text>
<text x="247.80" y="260.50" font-size="8.2" stroke="#000" stroke-width="0.22" textLength="4.6" lengthAdjust="spacingAndGlyphs" font-style="italic">o</text>
<text x="251.80" y="265.50" font-size="12.4" stroke="#000" stroke-width="0.22" textLength="13.5" lengthAdjust="spacingAndGlyphs">C)</text>
<g transform="translate(9.5,127.6) rotate(-90)">
<text x="0.00" y="0.00" font-size="12.4" text-anchor="middle" stroke="#000" stroke-width="0.22" textLength="208.5" lengthAdjust="spacingAndGlyphs">Cumulative Carbon Emissions (PgC)</text>
</g>
<rect x="44.7" y="19.6" width="89" height="110.5" rx="2" fill="#fff" fill-opacity="0.8" stroke="#ccc" stroke-width="0.8"/>
<line x1="47.1" y1="25.3" x2="63.0" y2="25.3" stroke="#b22222" stroke-width="1.4"/>
<text x="68.60" y="28.00" font-size="8.2" stroke="#000" stroke-width="0.22" textLength="34.6" lengthAdjust="spacingAndGlyphs">CanESM5</text>
<line x1="47.1" y1="36.2" x2="63.0" y2="36.2" stroke="#d2b48c" stroke-width="1.4"/>
<text x="68.60" y="38.90" font-size="8.2" stroke="#000" stroke-width="0.22" textLength="62.3" lengthAdjust="spacingAndGlyphs">CanESM5-CanOE</text>
<line x1="47.1" y1="47.0" x2="63.0" y2="47.0" stroke="#ffa500" stroke-width="1.4"/>
<text x="68.60" y="49.70" font-size="8.2" stroke="#000" stroke-width="0.22" textLength="25.2" lengthAdjust="spacingAndGlyphs">CESM2</text>
<line x1="47.1" y1="57.9" x2="63.0" y2="57.9" stroke="#ffd700" stroke-width="1.4"/>
<text x="68.60" y="60.60" font-size="8.2" stroke="#000" stroke-width="0.22" textLength="58.5" lengthAdjust="spacingAndGlyphs">CESM2-WACCM</text>
<line x1="47.1" y1="68.7" x2="63.0" y2="68.7" stroke="#228b22" stroke-width="1.4"/>
<text x="68.60" y="71.40" font-size="8.2" stroke="#000" stroke-width="0.22" textLength="53.3" lengthAdjust="spacingAndGlyphs">IPSL-CM6A-LR</text>
<line x1="47.1" y1="79.8" x2="63.0" y2="79.8" stroke="#4682b4" stroke-width="1.4"/>
<text x="68.60" y="82.50" font-size="8.2" stroke="#000" stroke-width="0.22" textLength="57.5" lengthAdjust="spacingAndGlyphs">MPI-ESM1-2-LR</text>
<line x1="47.1" y1="90.6" x2="63.0" y2="90.6" stroke="#4b0082" stroke-width="1.4"/>
<text x="68.60" y="93.30" font-size="8.2" stroke="#000" stroke-width="0.22" textLength="47.8" lengthAdjust="spacingAndGlyphs">NorESM2-LM</text>
<line x1="47.1" y1="101.6" x2="63.0" y2="101.6" stroke="#ee82ee" stroke-width="1.4"/>
<text x="68.60" y="104.30" font-size="8.2" stroke="#000" stroke-width="0.22" textLength="49.7" lengthAdjust="spacingAndGlyphs">NorESM2-MM</text>
<line x1="47.1" y1="112.4" x2="63.0" y2="112.4" stroke="#ffc0cb" stroke-width="1.4"/>
<text x="68.60" y="115.10" font-size="8.2" stroke="#000" stroke-width="0.22" textLength="51.7" lengthAdjust="spacingAndGlyphs">UKESM1-0-LL</text>
<path d="M55.2 118.8L56.4 121.8L59.7 122.0L57.2 124.2L58.0 127.3L55.2 125.6L52.4 127.3L53.2 124.2L50.7 122.0L54.0 121.8Z" fill="#000"/>
<text x="68.60" y="126.00" font-size="8.2" stroke="#000" stroke-width="0.22" textLength="48.6" lengthAdjust="spacingAndGlyphs">Observations</text>
<rect x="263.7" y="184.5" width="59.3" height="50.5" rx="2" fill="#fff" fill-opacity="0.8" stroke="#ccc" stroke-width="0.8"/>
<path d="M275.0 187.8L279.1 191.9L275.0 196.0L270.9 191.9Z" fill="none" stroke="#000" stroke-width="1"/>
<text x="289.80" y="194.60" font-size="8.2" stroke="#000" stroke-width="0.22" textLength="29.5" lengthAdjust="spacingAndGlyphs">ssp126</text>
<path d="M272.1 204.0a2.9 2.9 0 1 0 5.8 0a2.9 2.9 0 1 0 -5.8 0" fill="none" stroke="#000" stroke-width="1"/>
<text x="289.80" y="206.70" font-size="8.2" stroke="#000" stroke-width="0.22" textLength="29.5" lengthAdjust="spacingAndGlyphs">ssp245</text>
<path d="M272.2 213.0h5.6v5.6h-5.6Z" fill="none" stroke="#000" stroke-width="1"/>
<text x="289.80" y="218.50" font-size="8.2" stroke="#000" stroke-width="0.22" textLength="29.5" lengthAdjust="spacingAndGlyphs">ssp370</text>
<path d="M275.0 224.0L278.1 230.2L271.9 230.2Z" fill="none" stroke="#000" stroke-width="1"/>
<text x="289.80" y="229.80" font-size="8.2" stroke="#000" stroke-width="0.22" textLength="29.5" lengthAdjust="spacingAndGlyphs">ssp585</text>
<g clip-path="url(#cb)">
<rect x="517.0" y="15.5" width="73.0" height="223.8" fill="#add8e6" fill-opacity="0.5"/>
<rect x="398.7" y="99.0" width="191.3" height="57.7" fill="#ffc0cb" fill-opacity="0.5"/>
<path d="M368.7 250.4L377.3 244.3L386.0 238.1L394.6 231.9L403.3 225.7L411.9 219.5L420.6 213.3L429.2 207.0L437.8 200.7L446.5 194.4L455.1 188.1L463.8 181.8L472.4 175.4L481.1 169.0L489.7 162.7L498.3 156.2L507.0 149.8L515.6 143.4L524.3 136.9L532.9 130.4L541.5 123.9L550.2 117.4L558.8 110.9L567.5 104.3L576.1 97.7L584.8 91.1L593.4 84.5L602.0 77.9L610.7 71.3L619.3 64.6L628.0 57.9L636.6 51.2L645.3 44.5L653.9 37.7L662.5 31.0L671.2 24.2L679.8 17.4L688.5 10.6L697.1 3.8L705.8 -3.1L714.4 -10.0L714.4 22.7L705.8 28.9L697.1 35.1L688.5 41.3L679.8 47.5L671.2 53.7L662.5 60.0L653.9 66.3L645.3 72.6L636.6 78.9L628.0 85.3L619.3 91.6L610.7 98.0L602.0 104.4L593.4 110.8L584.8 117.3L576.1 123.7L567.5 130.2L558.8 136.7L550.2 143.2L541.5 149.7L532.9 156.3L524.3 162.8L515.6 169.4L507.0 176.0L498.3 182.7L489.7 189.3L481.1 196.0L472.4 202.6L463.8 209.3L455.1 216.0L446.5 222.8L437.8 229.5L429.2 236.3L420.6 243.1L411.9 249.9L403.3 256.7L394.6 263.5L386.0 270.4L377.3 277.3L368.7 284.2Z" fill="#d3d3d3" fill-opacity="0.5"/>
<line x1="398.7" y1="127.85" x2="590.0" y2="127.85" stroke="#ff0000" stroke-width="1.3" stroke-dasharray="4.4 2.1"/>
<line x1="553.5" y1="239.3" x2="553.5" y2="15.5" stroke="#0000ff" stroke-width="1.35" stroke-dasharray="4.5 1.85"/>
<line x1="368.7" y1="267.30" x2="714.4" y2="6.35" stroke="#000" stroke-width="1.3" stroke-dasharray="4.4 2.1"/>
<path d="M439.2 206.5L442.9 210.2L439.2 213.9L435.5 210.2ZM440.6 206.0L443.6 212.0L437.6 212.0ZM439.5 207.6a2.8 2.8 0 1 0 5.6 0a2.8 2.8 0 1 0 -5.6 0M443.5 201.2h5.4v5.4h-5.4Z" fill="none" stroke="#d2b48c" stroke-width="1"/>
<path d="M456.0 194.0L459.0 200.0L453.0 200.0ZM464.0 187.8L467.7 191.5L464.0 195.2L460.3 191.5ZM459.8 198.4a2.8 2.8 0 1 0 5.6 0a2.8 2.8 0 1 0 -5.6 0M459.1 193.8h5.4v5.4h-5.4Z" fill="none" stroke="#b22222" stroke-width="1"/>
<path d="M483.0 175.4L486.7 179.1L483.0 182.8L479.3 179.1ZM489.5 171.6L492.5 177.6L486.5 177.6ZM493.7 166.8a2.8 2.8 0 1 0 5.6 0a2.8 2.8 0 1 0 -5.6 0M493.7 152.6h5.4v5.4h-5.4Z" fill="none" stroke="#ffd700" stroke-width="1"/>
<path d="M516.8 157.8L520.5 161.5L516.8 165.2L513.1 161.5ZM514.9 162.3L517.9 168.3L511.9 168.3ZM520.2 163.8a2.8 2.8 0 1 0 5.6 0a2.8 2.8 0 1 0 -5.6 0M518.9 146.6h5.4v5.4h-5.4Z" fill="none" stroke="#ffa500" stroke-width="1"/>
<path d="M510.3 139.3L513.3 145.3L507.3 145.3ZM516.5 146.8h5.4v5.4h-5.4ZM517.4 156.0a2.8 2.8 0 1 0 5.6 0a2.8 2.8 0 1 0 -5.6 0M519.6 149.1L523.3 152.8L519.6 156.5L515.9 152.8Z" fill="none" stroke="#228b22" stroke-width="1"/>
<path d="M515.6 174.9L519.3 178.6L515.6 182.3L511.9 178.6ZM522.8 169.9a2.8 2.8 0 1 0 5.6 0a2.8 2.8 0 1 0 -5.6 0M521.9 173.5h5.4v5.4h-5.4ZM525.2 169.6L528.2 175.6L522.2 175.6Z" fill="none" stroke="#ffc0cb" stroke-width="1"/>
<path d="M551.1 111.4h5.4v5.4h-5.4ZM558.4 116.4a2.8 2.8 0 1 0 5.6 0a2.8 2.8 0 1 0 -5.6 0M557.6 112.9L561.3 116.6L557.6 120.3L553.9 116.6ZM557.0 114.4L560.0 120.4L554.0 120.4Z" fill="none" stroke="#4682b4" stroke-width="1"/>
<path d="M604.7 58.7h5.4v5.4h-5.4ZM598.8 69.3a2.8 2.8 0 1 0 5.6 0a2.8 2.8 0 1 0 -5.6 0M622.1 73.7L625.1 79.7L619.1 79.7Z" fill="none" stroke="#4b0082" stroke-width="1"/>
<path d="M613.3 72.6a2.8 2.8 0 1 0 5.6 0a2.8 2.8 0 1 0 -5.6 0M636.7 76.5L639.7 82.5L633.7 82.5ZM643.3 68.8h5.4v5.4h-5.4Z" fill="none" stroke="#ee82ee" stroke-width="1"/>
</g>
<rect x="398.7" y="15.5" width="285.7" height="223.8" fill="none" stroke="#333" stroke-width="0.9"/>
<line x1="441.60" y1="239.3" x2="441.60" y2="242.5" stroke="#333" stroke-width="0.9"/>
<text x="441.60" y="251.70" font-size="8.7" text-anchor="middle" stroke="#000" stroke-width="0.22" textLength="14.9" lengthAdjust="spacingAndGlyphs">300</text>
<line x1="395.50" y1="206.20" x2="398.7" y2="206.20" stroke="#333" stroke-width="0.9"/>
<text x="392.50" y="209.40" font-size="8.7" text-anchor="end" stroke="#000" stroke-width="0.22" textLength="14.9" lengthAdjust="spacingAndGlyphs">300</text>
<line x1="486.04" y1="239.3" x2="486.04" y2="242.5" stroke="#333" stroke-width="0.9"/>
<text x="486.04" y="251.70" font-size="8.7" text-anchor="middle" stroke="#000" stroke-width="0.22" textLength="14.9" lengthAdjust="spacingAndGlyphs">400</text>
<line x1="395.50" y1="171.27" x2="398.7" y2="171.27" stroke="#333" stroke-width="0.9"/>
<text x="392.50" y="174.47" font-size="8.7" text-anchor="end" stroke="#000" stroke-width="0.22" textLength="14.9" lengthAdjust="spacingAndGlyphs">400</text>
<line x1="530.48" y1="239.3" x2="530.48" y2="242.5" stroke="#333" stroke-width="0.9"/>
<text x="530.48" y="251.70" font-size="8.7" text-anchor="middle" stroke="#000" stroke-width="0.22" textLength="14.9" lengthAdjust="spacingAndGlyphs">500</text>
<line x1="395.50" y1="136.35" x2="398.7" y2="136.35" stroke="#333" stroke-width="0.9"/>
<text x="392.50" y="139.55" font-size="8.7" text-anchor="end" stroke="#000" stroke-width="0.22" textLength="14.9" lengthAdjust="spacingAndGlyphs">500</text>
<line x1="574.92" y1="239.3" x2="574.92" y2="242.5" stroke="#333" stroke-width="0.9"/>
<text x="574.92" y="251.70" font-size="8.7" text-anchor="middle" stroke="#000" stroke-width="0.22" textLength="14.9" lengthAdjust="spacingAndGlyphs">600</text>
<line x1="395.50" y1="101.42" x2="398.7" y2="101.42" stroke="#333" stroke-width="0.9"/>
<text x="392.50" y="104.62" font-size="8.7" text-anchor="end" stroke="#000" stroke-width="0.22" textLength="14.9" lengthAdjust="spacingAndGlyphs">600</text>
<line x1="619.36" y1="239.3" x2="619.36" y2="242.5" stroke="#333" stroke-width="0.9"/>
<text x="619.36" y="251.70" font-size="8.7" text-anchor="middle" stroke="#000" stroke-width="0.22" textLength="14.9" lengthAdjust="spacingAndGlyphs">700</text>
<line x1="395.50" y1="66.50" x2="398.7" y2="66.50" stroke="#333" stroke-width="0.9"/>
<text x="392.50" y="69.70" font-size="8.7" text-anchor="end" stroke="#000" stroke-width="0.22" textLength="14.9" lengthAdjust="spacingAndGlyphs">700</text>
<line x1="663.80" y1="239.3" x2="663.80" y2="242.5" stroke="#333" stroke-width="0.9"/>
<text x="663.80" y="251.70" font-size="8.7" text-anchor="middle" stroke="#000" stroke-width="0.22" textLength="14.9" lengthAdjust="spacingAndGlyphs">800</text>
<line x1="395.50" y1="31.57" x2="398.7" y2="31.57" stroke="#333" stroke-width="0.9"/>
<text x="392.50" y="34.77" font-size="8.7" text-anchor="end" stroke="#000" stroke-width="0.22" textLength="14.9" lengthAdjust="spacingAndGlyphs">800</text>
<text x="423.40" y="10.70" font-size="12.6" stroke="#000" stroke-width="0.22" textLength="164.5" lengthAdjust="spacingAndGlyphs">(b) Emergent Relationship (r</text>
<text x="589.30" y="6.60" font-size="8.2" stroke="#000" stroke-width="0.22" textLength="5.0" lengthAdjust="spacingAndGlyphs">2</text>
<text x="598.50" y="10.70" font-size="12.6" stroke="#000" stroke-width="0.22" textLength="42.3" lengthAdjust="spacingAndGlyphs">= 0.92)</text>
<text x="426.40" y="265.50" font-size="12.4" stroke="#000" stroke-width="0.22" textLength="212.5" lengthAdjust="spacingAndGlyphs">Specific Carbon Budget to now (PgC/</text>
<text x="638.80" y="260.50" font-size="8.2" stroke="#000" stroke-width="0.22" textLength="4.6" lengthAdjust="spacingAndGlyphs" font-style="italic">o</text>
<text x="642.60" y="265.50" font-size="12.4" stroke="#000" stroke-width="0.22" textLength="13.5" lengthAdjust="spacingAndGlyphs">C)</text>
<g transform="translate(371.6,245.0) rotate(-90)">
<text x="0.00" y="0.00" font-size="12.4" stroke="#000" stroke-width="0.22" textLength="213.0" lengthAdjust="spacingAndGlyphs">Specific Carbon Budget at 2.0K (PgC/</text>
<text x="214.20" y="-5.00" font-size="8.2" stroke="#000" stroke-width="0.22" textLength="4.6" lengthAdjust="spacingAndGlyphs" font-style="italic">o</text>
<text x="219.00" y="0.00" font-size="12.4" stroke="#000" stroke-width="0.22" textLength="12.9" lengthAdjust="spacingAndGlyphs">C)</text>
</g>
<rect x="402.4" y="19.4" width="116" height="27.2" rx="2" fill="#fff" fill-opacity="0.8" stroke="#ccc" stroke-width="0.8"/>
<rect x="406.0" y="23.5" width="16.6" height="5.6" fill="#add8e6" fill-opacity="0.5"/>
<rect x="406.0" y="35.8" width="16.6" height="5.6" fill="#ffc0cb" fill-opacity="0.5"/>
<text x="429.50" y="29.50" font-size="8.2" stroke="#000" stroke-width="0.22" textLength="49.5" lengthAdjust="spacingAndGlyphs">Observation</text>
<text x="429.50" y="41.30" font-size="8.2" stroke="#000" stroke-width="0.22" textLength="85.2" lengthAdjust="spacingAndGlyphs">Emergent Constraint</text>
<rect x="621.5" y="184.5" width="59.0" height="50.5" rx="2" fill="#fff" fill-opacity="0.8" stroke="#ccc" stroke-width="0.8"/>
<path d="M632.9 187.8L637.0 191.9L632.9 196.0L628.8 191.9Z" fill="none" stroke="#000" stroke-width="1"/>
<text x="647.40" y="194.60" font-size="8.2" stroke="#000" stroke-width="0.22" textLength="29.5" lengthAdjust="spacingAndGlyphs">ssp126</text>
<path d="M630.0 204.0a2.9 2.9 0 1 0 5.8 0a2.9 2.9 0 1 0 -5.8 0" fill="none" stroke="#000" stroke-width="1"/>
<text x="647.40" y="206.70" font-size="8.2" stroke="#000" stroke-width="0.22" textLength="29.5" lengthAdjust="spacingAndGlyphs">ssp245</text>
<path d="M630.1 213.0h5.6v5.6h-5.6Z" fill="none" stroke="#000" stroke-width="1"/>
<text x="647.40" y="218.50" font-size="8.2" stroke="#000" stroke-width="0.22" textLength="29.5" lengthAdjust="spacingAndGlyphs">ssp370</text>
<path d="M632.9 224.0L636.0 230.2L629.8 230.2Z" fill="none" stroke="#000" stroke-width="1"/>
<text x="647.40" y="229.80" font-size="8.2" stroke="#000" stroke-width="0.22" textLength="29.5" lengthAdjust="spacingAndGlyphs">ssp585</text>
</svg>
</body></html>
